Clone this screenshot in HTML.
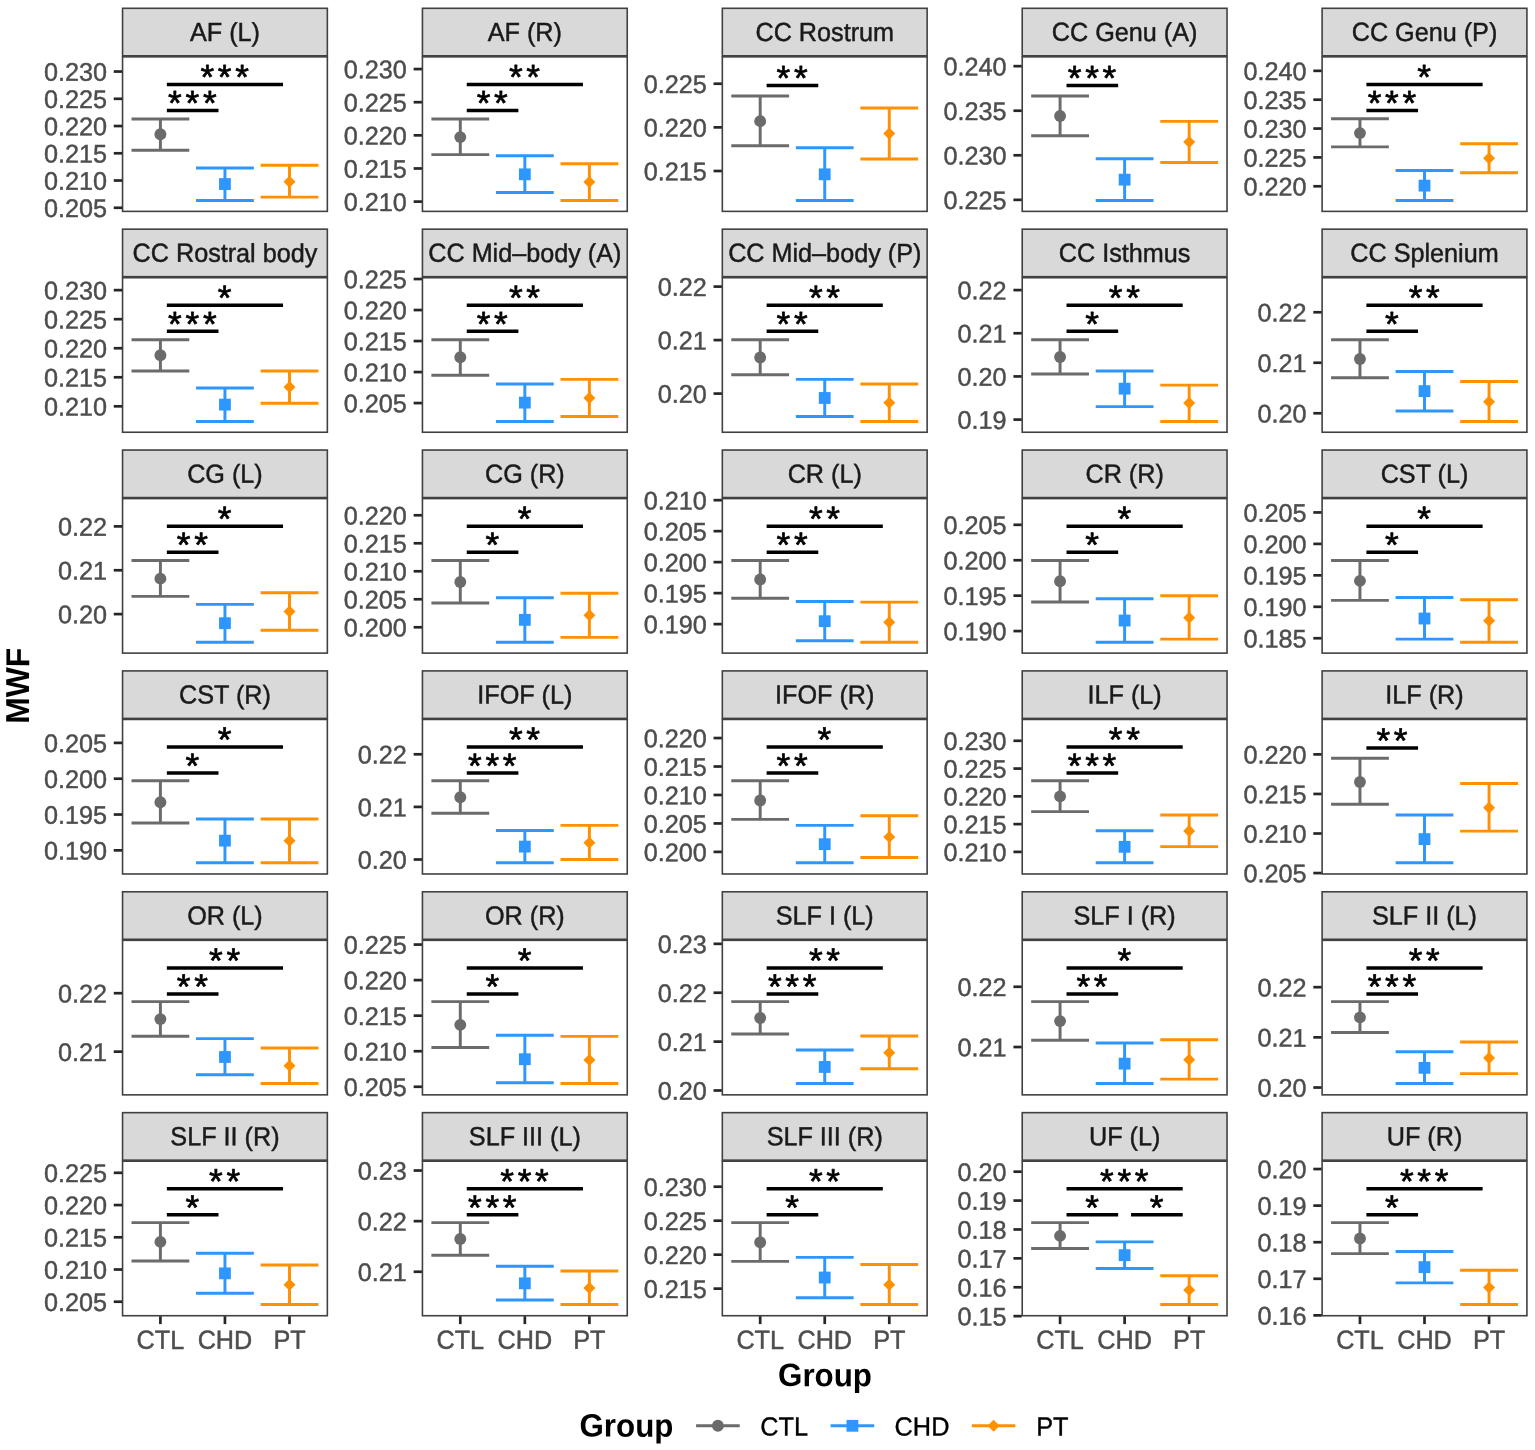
<!DOCTYPE html>
<html lang="en">
<head>
<meta charset="utf-8">
<title>MWF by Group</title>
<style>
html,body{margin:0;padding:0;background:#fff;}
body{width:1535px;height:1450px;overflow:hidden;}
svg{display:block;}
</style>
</head>
<body>
<svg width="1535" height="1450" viewBox="0 0 1535 1450" text-rendering="geometricPrecision" font-family="'Liberation Sans', Arial, Helvetica, sans-serif">
<rect width="1535" height="1450" fill="#ffffff"/>
<g>
<rect x="122.55" y="56.85" width="204.8" height="154.52" fill="#ffffff" stroke="#414141" stroke-width="1.6"/>
<rect x="122.55" y="8.3" width="204.8" height="47.5" fill="#d9d9d9" stroke="#414141" stroke-width="1.6"/>
<text transform="translate(224.95 41) rotate(0.1) scale(1 1.035)" x="0" y="0" font-size="25.2" fill="#1a1a1a" stroke="#1a1a1a" stroke-width="0.45" text-anchor="middle">AF (L)</text>
<line x1="113.75" y1="71.54" x2="122.05" y2="71.54" stroke="#262626" stroke-width="2.7"/>
<text transform="translate(106.95 80.86) rotate(0.1) scale(1 1.008)" x="0" y="0" font-size="25.2" fill="#4d4d4d" stroke="#4d4d4d" stroke-width="0.45" text-anchor="end">0.230</text>
<line x1="113.75" y1="98.79" x2="122.05" y2="98.79" stroke="#262626" stroke-width="2.7"/>
<text transform="translate(106.95 108.11) rotate(0.1) scale(1 1.008)" x="0" y="0" font-size="25.2" fill="#4d4d4d" stroke="#4d4d4d" stroke-width="0.45" text-anchor="end">0.225</text>
<line x1="113.75" y1="126.03" x2="122.05" y2="126.03" stroke="#262626" stroke-width="2.7"/>
<text transform="translate(106.95 135.35) rotate(0.1) scale(1 1.008)" x="0" y="0" font-size="25.2" fill="#4d4d4d" stroke="#4d4d4d" stroke-width="0.45" text-anchor="end">0.220</text>
<line x1="113.75" y1="153.28" x2="122.05" y2="153.28" stroke="#262626" stroke-width="2.7"/>
<text transform="translate(106.95 162.6) rotate(0.1) scale(1 1.008)" x="0" y="0" font-size="25.2" fill="#4d4d4d" stroke="#4d4d4d" stroke-width="0.45" text-anchor="end">0.215</text>
<line x1="113.75" y1="180.52" x2="122.05" y2="180.52" stroke="#262626" stroke-width="2.7"/>
<text transform="translate(106.95 189.84) rotate(0.1) scale(1 1.008)" x="0" y="0" font-size="25.2" fill="#4d4d4d" stroke="#4d4d4d" stroke-width="0.45" text-anchor="end">0.210</text>
<line x1="113.75" y1="207.77" x2="122.05" y2="207.77" stroke="#262626" stroke-width="2.7"/>
<text transform="translate(106.95 217.09) rotate(0.1) scale(1 1.008)" x="0" y="0" font-size="25.2" fill="#4d4d4d" stroke="#4d4d4d" stroke-width="0.45" text-anchor="end">0.205</text>
<path d="M131.5 118.94H189.3M131.5 150.18H189.3M160.4 118.94V150.18" fill="none" stroke="#6b6b6b" stroke-width="2.95"/>
<circle cx="160.4" cy="134.23" r="5.95" fill="#6b6b6b"/>
<path d="M196.05 167.9H253.85M196.05 200.46H253.85M224.95 167.9V200.46" fill="none" stroke="#2e96ff" stroke-width="2.95"/>
<rect x="219.05" y="178.17" width="11.8" height="11.8" fill="#2e96ff"/>
<path d="M260.6 165.24H318.4M260.6 197.13H318.4M289.5 165.24V197.13" fill="none" stroke="#ff9000" stroke-width="2.95"/>
<path d="M289.5 175.63L295.5 181.63L289.5 187.63L283.5 181.63Z" fill="#ff9000"/>
<line x1="166.85" y1="84.4" x2="283.04" y2="84.4" stroke="#000" stroke-width="3.5"/>
<text transform="translate(224.6 89) rotate(0.1) scale(1 1)" x="-17.4 0 17.4" y="0" font-size="35" font-weight="normal" fill="#000" stroke="#000" stroke-width="0.7" stroke-linejoin="round" text-anchor="middle">***</text>
<line x1="166.85" y1="110.5" x2="218.49" y2="110.5" stroke="#000" stroke-width="3.5"/>
<text transform="translate(192.32 115.1) rotate(0.1) scale(1 1)" x="-17.4 -0 17.4" y="0" font-size="35" font-weight="normal" fill="#000" stroke="#000" stroke-width="0.7" stroke-linejoin="round" text-anchor="middle">***</text>
</g>
<g>
<rect x="422.44" y="56.85" width="204.8" height="154.52" fill="#ffffff" stroke="#414141" stroke-width="1.6"/>
<rect x="422.44" y="8.3" width="204.8" height="47.5" fill="#d9d9d9" stroke="#414141" stroke-width="1.6"/>
<text transform="translate(524.84 41) rotate(0.1) scale(1 1.035)" x="0" y="0" font-size="25.2" fill="#1a1a1a" stroke="#1a1a1a" stroke-width="0.45" text-anchor="middle">AF (R)</text>
<line x1="413.64" y1="69.06" x2="421.94" y2="69.06" stroke="#262626" stroke-width="2.7"/>
<text transform="translate(406.84 78.38) rotate(0.1) scale(1 1.008)" x="0" y="0" font-size="25.2" fill="#4d4d4d" stroke="#4d4d4d" stroke-width="0.45" text-anchor="end">0.230</text>
<line x1="413.64" y1="102.2" x2="421.94" y2="102.2" stroke="#262626" stroke-width="2.7"/>
<text transform="translate(406.84 111.52) rotate(0.1) scale(1 1.008)" x="0" y="0" font-size="25.2" fill="#4d4d4d" stroke="#4d4d4d" stroke-width="0.45" text-anchor="end">0.225</text>
<line x1="413.64" y1="135.34" x2="421.94" y2="135.34" stroke="#262626" stroke-width="2.7"/>
<text transform="translate(406.84 144.66) rotate(0.1) scale(1 1.008)" x="0" y="0" font-size="25.2" fill="#4d4d4d" stroke="#4d4d4d" stroke-width="0.45" text-anchor="end">0.220</text>
<line x1="413.64" y1="168.47" x2="421.94" y2="168.47" stroke="#262626" stroke-width="2.7"/>
<text transform="translate(406.84 177.79) rotate(0.1) scale(1 1.008)" x="0" y="0" font-size="25.2" fill="#4d4d4d" stroke="#4d4d4d" stroke-width="0.45" text-anchor="end">0.215</text>
<line x1="413.64" y1="201.61" x2="421.94" y2="201.61" stroke="#262626" stroke-width="2.7"/>
<text transform="translate(406.84 210.93) rotate(0.1) scale(1 1.008)" x="0" y="0" font-size="25.2" fill="#4d4d4d" stroke="#4d4d4d" stroke-width="0.45" text-anchor="end">0.210</text>
<path d="M431.39 118.94H489.19M431.39 154.61H489.19M460.29 118.94V154.61" fill="none" stroke="#6b6b6b" stroke-width="2.95"/>
<circle cx="460.29" cy="137.11" r="5.95" fill="#6b6b6b"/>
<path d="M495.94 155.71H553.74M495.94 192.48H553.74M524.84 155.71V192.48" fill="none" stroke="#2e96ff" stroke-width="2.95"/>
<rect x="518.94" y="168.42" width="11.8" height="11.8" fill="#2e96ff"/>
<path d="M560.49 163.69H618.29M560.49 200.46H618.29M589.39 163.69V200.46" fill="none" stroke="#ff9000" stroke-width="2.95"/>
<path d="M589.39 176.07L595.39 182.07L589.39 188.07L583.39 182.07Z" fill="#ff9000"/>
<line x1="466.75" y1="84.4" x2="582.94" y2="84.4" stroke="#000" stroke-width="3.5"/>
<text transform="translate(524.49 89) rotate(0.1) scale(1 1)" x="-8.7 8.7" y="0" font-size="35" font-weight="normal" fill="#000" stroke="#000" stroke-width="0.7" stroke-linejoin="round" text-anchor="middle">**</text>
<line x1="466.75" y1="110.5" x2="518.38" y2="110.5" stroke="#000" stroke-width="3.5"/>
<text transform="translate(492.22 115.1) rotate(0.1) scale(1 1)" x="-8.7 8.7" y="0" font-size="35" font-weight="normal" fill="#000" stroke="#000" stroke-width="0.7" stroke-linejoin="round" text-anchor="middle">**</text>
</g>
<g>
<rect x="722.33" y="56.85" width="204.8" height="154.52" fill="#ffffff" stroke="#414141" stroke-width="1.6"/>
<rect x="722.33" y="8.3" width="204.8" height="47.5" fill="#d9d9d9" stroke="#414141" stroke-width="1.6"/>
<text transform="translate(824.73 41) rotate(0.1) scale(1 1.035)" x="0" y="0" font-size="25.2" fill="#1a1a1a" stroke="#1a1a1a" stroke-width="0.45" text-anchor="middle">CC Rostrum</text>
<line x1="713.53" y1="83.73" x2="721.83" y2="83.73" stroke="#262626" stroke-width="2.7"/>
<text transform="translate(706.73 93.05) rotate(0.1) scale(1 1.008)" x="0" y="0" font-size="25.2" fill="#4d4d4d" stroke="#4d4d4d" stroke-width="0.45" text-anchor="end">0.225</text>
<line x1="713.53" y1="127.36" x2="721.83" y2="127.36" stroke="#262626" stroke-width="2.7"/>
<text transform="translate(706.73 136.68) rotate(0.1) scale(1 1.008)" x="0" y="0" font-size="25.2" fill="#4d4d4d" stroke="#4d4d4d" stroke-width="0.45" text-anchor="end">0.220</text>
<line x1="713.53" y1="171" x2="721.83" y2="171" stroke="#262626" stroke-width="2.7"/>
<text transform="translate(706.73 180.32) rotate(0.1) scale(1 1.008)" x="0" y="0" font-size="25.2" fill="#4d4d4d" stroke="#4d4d4d" stroke-width="0.45" text-anchor="end">0.215</text>
<path d="M731.28 95.91H789.08M731.28 145.75H789.08M760.18 95.91V145.75" fill="none" stroke="#6b6b6b" stroke-width="2.95"/>
<circle cx="760.18" cy="121.16" r="5.95" fill="#6b6b6b"/>
<path d="M795.83 147.74H853.63M795.83 200.46H853.63M824.73 147.74V200.46" fill="none" stroke="#2e96ff" stroke-width="2.95"/>
<rect x="818.83" y="168.42" width="11.8" height="11.8" fill="#2e96ff"/>
<path d="M860.38 108.09H918.18M860.38 159.04H918.18M889.28 108.09V159.04" fill="none" stroke="#ff9000" stroke-width="2.95"/>
<path d="M889.28 127.56L895.28 133.56L889.28 139.56L883.28 133.56Z" fill="#ff9000"/>
<line x1="766.63" y1="85.4" x2="818.27" y2="85.4" stroke="#000" stroke-width="3.5"/>
<text transform="translate(792.1 90) rotate(0.1) scale(1 1)" x="-8.7 8.7" y="0" font-size="35" font-weight="normal" fill="#000" stroke="#000" stroke-width="0.7" stroke-linejoin="round" text-anchor="middle">**</text>
</g>
<g>
<rect x="1022.22" y="56.85" width="204.8" height="154.52" fill="#ffffff" stroke="#414141" stroke-width="1.6"/>
<rect x="1022.22" y="8.3" width="204.8" height="47.5" fill="#d9d9d9" stroke="#414141" stroke-width="1.6"/>
<text transform="translate(1124.62 41) rotate(0.1) scale(1 1.035)" x="0" y="0" font-size="25.2" fill="#1a1a1a" stroke="#1a1a1a" stroke-width="0.45" text-anchor="middle">CC Genu (A)</text>
<line x1="1013.42" y1="66.16" x2="1021.72" y2="66.16" stroke="#262626" stroke-width="2.7"/>
<text transform="translate(1006.62 75.48) rotate(0.1) scale(1 1.008)" x="0" y="0" font-size="25.2" fill="#4d4d4d" stroke="#4d4d4d" stroke-width="0.45" text-anchor="end">0.240</text>
<line x1="1013.42" y1="110.73" x2="1021.72" y2="110.73" stroke="#262626" stroke-width="2.7"/>
<text transform="translate(1006.62 120.05) rotate(0.1) scale(1 1.008)" x="0" y="0" font-size="25.2" fill="#4d4d4d" stroke="#4d4d4d" stroke-width="0.45" text-anchor="end">0.235</text>
<line x1="1013.42" y1="155.29" x2="1021.72" y2="155.29" stroke="#262626" stroke-width="2.7"/>
<text transform="translate(1006.62 164.61) rotate(0.1) scale(1 1.008)" x="0" y="0" font-size="25.2" fill="#4d4d4d" stroke="#4d4d4d" stroke-width="0.45" text-anchor="end">0.230</text>
<line x1="1013.42" y1="199.86" x2="1021.72" y2="199.86" stroke="#262626" stroke-width="2.7"/>
<text transform="translate(1006.62 209.18) rotate(0.1) scale(1 1.008)" x="0" y="0" font-size="25.2" fill="#4d4d4d" stroke="#4d4d4d" stroke-width="0.45" text-anchor="end">0.225</text>
<path d="M1031.17 95.91H1088.97M1031.17 135.78H1088.97M1060.07 95.91V135.78" fill="none" stroke="#6b6b6b" stroke-width="2.95"/>
<circle cx="1060.07" cy="116.07" r="5.95" fill="#6b6b6b"/>
<path d="M1095.72 158.81H1153.52M1095.72 200.46H1153.52M1124.62 158.81V200.46" fill="none" stroke="#2e96ff" stroke-width="2.95"/>
<rect x="1118.72" y="173.74" width="11.8" height="11.8" fill="#2e96ff"/>
<path d="M1160.27 121.38H1218.07M1160.27 162.58H1218.07M1189.17 121.38V162.58" fill="none" stroke="#ff9000" stroke-width="2.95"/>
<path d="M1189.17 135.98L1195.17 141.98L1189.17 147.98L1183.17 141.98Z" fill="#ff9000"/>
<line x1="1066.52" y1="85.4" x2="1118.16" y2="85.4" stroke="#000" stroke-width="3.5"/>
<text transform="translate(1091.99 90) rotate(0.1) scale(1 1)" x="-17.4 0 17.4" y="0" font-size="35" font-weight="normal" fill="#000" stroke="#000" stroke-width="0.7" stroke-linejoin="round" text-anchor="middle">***</text>
</g>
<g>
<rect x="1322.11" y="56.85" width="204.8" height="154.52" fill="#ffffff" stroke="#414141" stroke-width="1.6"/>
<rect x="1322.11" y="8.3" width="204.8" height="47.5" fill="#d9d9d9" stroke="#414141" stroke-width="1.6"/>
<text transform="translate(1424.51 41) rotate(0.1) scale(1 1.035)" x="0" y="0" font-size="25.2" fill="#1a1a1a" stroke="#1a1a1a" stroke-width="0.45" text-anchor="middle">CC Genu (P)</text>
<line x1="1313.31" y1="70.84" x2="1321.61" y2="70.84" stroke="#262626" stroke-width="2.7"/>
<text transform="translate(1306.51 80.16) rotate(0.1) scale(1 1.008)" x="0" y="0" font-size="25.2" fill="#4d4d4d" stroke="#4d4d4d" stroke-width="0.45" text-anchor="end">0.240</text>
<line x1="1313.31" y1="99.7" x2="1321.61" y2="99.7" stroke="#262626" stroke-width="2.7"/>
<text transform="translate(1306.51 109.02) rotate(0.1) scale(1 1.008)" x="0" y="0" font-size="25.2" fill="#4d4d4d" stroke="#4d4d4d" stroke-width="0.45" text-anchor="end">0.235</text>
<line x1="1313.31" y1="128.56" x2="1321.61" y2="128.56" stroke="#262626" stroke-width="2.7"/>
<text transform="translate(1306.51 137.88) rotate(0.1) scale(1 1.008)" x="0" y="0" font-size="25.2" fill="#4d4d4d" stroke="#4d4d4d" stroke-width="0.45" text-anchor="end">0.230</text>
<line x1="1313.31" y1="157.42" x2="1321.61" y2="157.42" stroke="#262626" stroke-width="2.7"/>
<text transform="translate(1306.51 166.74) rotate(0.1) scale(1 1.008)" x="0" y="0" font-size="25.2" fill="#4d4d4d" stroke="#4d4d4d" stroke-width="0.45" text-anchor="end">0.225</text>
<line x1="1313.31" y1="186.28" x2="1321.61" y2="186.28" stroke="#262626" stroke-width="2.7"/>
<text transform="translate(1306.51 195.6) rotate(0.1) scale(1 1.008)" x="0" y="0" font-size="25.2" fill="#4d4d4d" stroke="#4d4d4d" stroke-width="0.45" text-anchor="end">0.220</text>
<path d="M1331.06 118.72H1388.86M1331.06 146.85H1388.86M1359.96 118.72V146.85" fill="none" stroke="#6b6b6b" stroke-width="2.95"/>
<circle cx="1359.96" cy="133.12" r="5.95" fill="#6b6b6b"/>
<path d="M1395.61 170.55H1453.41M1395.61 200.46H1453.41M1424.51 170.55V200.46" fill="none" stroke="#2e96ff" stroke-width="2.95"/>
<rect x="1418.61" y="179.72" width="11.8" height="11.8" fill="#2e96ff"/>
<path d="M1460.16 143.75H1517.96M1460.16 172.77H1517.96M1489.06 143.75V172.77" fill="none" stroke="#ff9000" stroke-width="2.95"/>
<path d="M1489.06 152.15L1495.06 158.15L1489.06 164.15L1483.06 158.15Z" fill="#ff9000"/>
<line x1="1366.41" y1="84.4" x2="1482.61" y2="84.4" stroke="#000" stroke-width="3.5"/>
<text transform="translate(1424.16 89) rotate(0.1) scale(1 1)" x="0" y="0" font-size="35" font-weight="normal" fill="#000" stroke="#000" stroke-width="0.7" stroke-linejoin="round" text-anchor="middle">*</text>
<line x1="1366.41" y1="110.5" x2="1418.06" y2="110.5" stroke="#000" stroke-width="3.5"/>
<text transform="translate(1391.89 115.1) rotate(0.1) scale(1 1)" x="-17.4 0 17.4" y="0" font-size="35" font-weight="normal" fill="#000" stroke="#000" stroke-width="0.7" stroke-linejoin="round" text-anchor="middle">***</text>
</g>
<g>
<rect x="122.55" y="277.72" width="204.8" height="154.52" fill="#ffffff" stroke="#414141" stroke-width="1.6"/>
<rect x="122.55" y="229.17" width="204.8" height="47.5" fill="#d9d9d9" stroke="#414141" stroke-width="1.6"/>
<text transform="translate(224.95 261.87) rotate(0.1) scale(1 1.035)" x="0" y="0" font-size="25.2" fill="#1a1a1a" stroke="#1a1a1a" stroke-width="0.45" text-anchor="middle">CC Rostral body</text>
<line x1="113.75" y1="290.15" x2="122.05" y2="290.15" stroke="#262626" stroke-width="2.7"/>
<text transform="translate(106.95 299.47) rotate(0.1) scale(1 1.008)" x="0" y="0" font-size="25.2" fill="#4d4d4d" stroke="#4d4d4d" stroke-width="0.45" text-anchor="end">0.230</text>
<line x1="113.75" y1="319.19" x2="122.05" y2="319.19" stroke="#262626" stroke-width="2.7"/>
<text transform="translate(106.95 328.51) rotate(0.1) scale(1 1.008)" x="0" y="0" font-size="25.2" fill="#4d4d4d" stroke="#4d4d4d" stroke-width="0.45" text-anchor="end">0.225</text>
<line x1="113.75" y1="348.23" x2="122.05" y2="348.23" stroke="#262626" stroke-width="2.7"/>
<text transform="translate(106.95 357.55) rotate(0.1) scale(1 1.008)" x="0" y="0" font-size="25.2" fill="#4d4d4d" stroke="#4d4d4d" stroke-width="0.45" text-anchor="end">0.220</text>
<line x1="113.75" y1="377.27" x2="122.05" y2="377.27" stroke="#262626" stroke-width="2.7"/>
<text transform="translate(106.95 386.59) rotate(0.1) scale(1 1.008)" x="0" y="0" font-size="25.2" fill="#4d4d4d" stroke="#4d4d4d" stroke-width="0.45" text-anchor="end">0.215</text>
<line x1="113.75" y1="406.31" x2="122.05" y2="406.31" stroke="#262626" stroke-width="2.7"/>
<text transform="translate(106.95 415.63) rotate(0.1) scale(1 1.008)" x="0" y="0" font-size="25.2" fill="#4d4d4d" stroke="#4d4d4d" stroke-width="0.45" text-anchor="end">0.210</text>
<path d="M131.5 339.72H189.3M131.5 370.95H189.3M160.4 339.72V370.95" fill="none" stroke="#6b6b6b" stroke-width="2.95"/>
<circle cx="160.4" cy="355.23" r="5.95" fill="#6b6b6b"/>
<path d="M196.05 388.01H253.85M196.05 421.46H253.85M224.95 388.01V421.46" fill="none" stroke="#2e96ff" stroke-width="2.95"/>
<rect x="219.05" y="398.72" width="11.8" height="11.8" fill="#2e96ff"/>
<path d="M260.6 370.95H318.4M260.6 403.29H318.4M289.5 370.95V403.29" fill="none" stroke="#ff9000" stroke-width="2.95"/>
<path d="M289.5 380.9L295.5 386.9L289.5 392.9L283.5 386.9Z" fill="#ff9000"/>
<line x1="166.85" y1="305.27" x2="283.04" y2="305.27" stroke="#000" stroke-width="3.5"/>
<text transform="translate(224.6 309.87) rotate(0.1) scale(1 1)" x="0" y="0" font-size="35" font-weight="normal" fill="#000" stroke="#000" stroke-width="0.7" stroke-linejoin="round" text-anchor="middle">*</text>
<line x1="166.85" y1="331.37" x2="218.49" y2="331.37" stroke="#000" stroke-width="3.5"/>
<text transform="translate(192.32 335.97) rotate(0.1) scale(1 1)" x="-17.4 -0 17.4" y="0" font-size="35" font-weight="normal" fill="#000" stroke="#000" stroke-width="0.7" stroke-linejoin="round" text-anchor="middle">***</text>
</g>
<g>
<rect x="422.44" y="277.72" width="204.8" height="154.52" fill="#ffffff" stroke="#414141" stroke-width="1.6"/>
<rect x="422.44" y="229.17" width="204.8" height="47.5" fill="#d9d9d9" stroke="#414141" stroke-width="1.6"/>
<text transform="translate(524.84 261.87) rotate(0.1) scale(1 1.035)" x="0" y="0" font-size="25.2" fill="#1a1a1a" stroke="#1a1a1a" stroke-width="0.45" text-anchor="middle">CC Mid–body (A)</text>
<line x1="413.64" y1="279.03" x2="421.94" y2="279.03" stroke="#262626" stroke-width="2.7"/>
<text transform="translate(406.84 288.35) rotate(0.1) scale(1 1.008)" x="0" y="0" font-size="25.2" fill="#4d4d4d" stroke="#4d4d4d" stroke-width="0.45" text-anchor="end">0.225</text>
<line x1="413.64" y1="310.04" x2="421.94" y2="310.04" stroke="#262626" stroke-width="2.7"/>
<text transform="translate(406.84 319.36) rotate(0.1) scale(1 1.008)" x="0" y="0" font-size="25.2" fill="#4d4d4d" stroke="#4d4d4d" stroke-width="0.45" text-anchor="end">0.220</text>
<line x1="413.64" y1="341.05" x2="421.94" y2="341.05" stroke="#262626" stroke-width="2.7"/>
<text transform="translate(406.84 350.37) rotate(0.1) scale(1 1.008)" x="0" y="0" font-size="25.2" fill="#4d4d4d" stroke="#4d4d4d" stroke-width="0.45" text-anchor="end">0.215</text>
<line x1="413.64" y1="372.06" x2="421.94" y2="372.06" stroke="#262626" stroke-width="2.7"/>
<text transform="translate(406.84 381.38) rotate(0.1) scale(1 1.008)" x="0" y="0" font-size="25.2" fill="#4d4d4d" stroke="#4d4d4d" stroke-width="0.45" text-anchor="end">0.210</text>
<line x1="413.64" y1="403.07" x2="421.94" y2="403.07" stroke="#262626" stroke-width="2.7"/>
<text transform="translate(406.84 412.39) rotate(0.1) scale(1 1.008)" x="0" y="0" font-size="25.2" fill="#4d4d4d" stroke="#4d4d4d" stroke-width="0.45" text-anchor="end">0.205</text>
<path d="M431.39 339.72H489.19M431.39 375.16H489.19M460.29 339.72V375.16" fill="none" stroke="#6b6b6b" stroke-width="2.95"/>
<circle cx="460.29" cy="357.22" r="5.95" fill="#6b6b6b"/>
<path d="M495.94 384.02H553.74M495.94 421.46H553.74M524.84 384.02V421.46" fill="none" stroke="#2e96ff" stroke-width="2.95"/>
<rect x="518.94" y="396.73" width="11.8" height="11.8" fill="#2e96ff"/>
<path d="M560.49 379.37H618.29M560.49 416.58H618.29M589.39 379.37V416.58" fill="none" stroke="#ff9000" stroke-width="2.95"/>
<path d="M589.39 391.98L595.39 397.98L589.39 403.98L583.39 397.98Z" fill="#ff9000"/>
<line x1="466.75" y1="305.27" x2="582.94" y2="305.27" stroke="#000" stroke-width="3.5"/>
<text transform="translate(524.49 309.87) rotate(0.1) scale(1 1)" x="-8.7 8.7" y="0" font-size="35" font-weight="normal" fill="#000" stroke="#000" stroke-width="0.7" stroke-linejoin="round" text-anchor="middle">**</text>
<line x1="466.75" y1="331.37" x2="518.38" y2="331.37" stroke="#000" stroke-width="3.5"/>
<text transform="translate(492.22 335.97) rotate(0.1) scale(1 1)" x="-8.7 8.7" y="0" font-size="35" font-weight="normal" fill="#000" stroke="#000" stroke-width="0.7" stroke-linejoin="round" text-anchor="middle">**</text>
</g>
<g>
<rect x="722.33" y="277.72" width="204.8" height="154.52" fill="#ffffff" stroke="#414141" stroke-width="1.6"/>
<rect x="722.33" y="229.17" width="204.8" height="47.5" fill="#d9d9d9" stroke="#414141" stroke-width="1.6"/>
<text transform="translate(824.73 261.87) rotate(0.1) scale(1 1.035)" x="0" y="0" font-size="25.2" fill="#1a1a1a" stroke="#1a1a1a" stroke-width="0.45" text-anchor="middle">CC Mid–body (P)</text>
<line x1="713.53" y1="286.6" x2="721.83" y2="286.6" stroke="#262626" stroke-width="2.7"/>
<text transform="translate(706.73 295.92) rotate(0.1) scale(1 1.008)" x="0" y="0" font-size="25.2" fill="#4d4d4d" stroke="#4d4d4d" stroke-width="0.45" text-anchor="end">0.22</text>
<line x1="713.53" y1="340.09" x2="721.83" y2="340.09" stroke="#262626" stroke-width="2.7"/>
<text transform="translate(706.73 349.41) rotate(0.1) scale(1 1.008)" x="0" y="0" font-size="25.2" fill="#4d4d4d" stroke="#4d4d4d" stroke-width="0.45" text-anchor="end">0.21</text>
<line x1="713.53" y1="393.58" x2="721.83" y2="393.58" stroke="#262626" stroke-width="2.7"/>
<text transform="translate(706.73 402.9) rotate(0.1) scale(1 1.008)" x="0" y="0" font-size="25.2" fill="#4d4d4d" stroke="#4d4d4d" stroke-width="0.45" text-anchor="end">0.20</text>
<path d="M731.28 339.72H789.08M731.28 374.72H789.08M760.18 339.72V374.72" fill="none" stroke="#6b6b6b" stroke-width="2.95"/>
<circle cx="760.18" cy="357.44" r="5.95" fill="#6b6b6b"/>
<path d="M795.83 379.37H853.63M795.83 416.58H853.63M824.73 379.37V416.58" fill="none" stroke="#2e96ff" stroke-width="2.95"/>
<rect x="818.83" y="392.08" width="11.8" height="11.8" fill="#2e96ff"/>
<path d="M860.38 384.02H918.18M860.38 421.46H918.18M889.28 384.02V421.46" fill="none" stroke="#ff9000" stroke-width="2.95"/>
<path d="M889.28 396.63L895.28 402.63L889.28 408.63L883.28 402.63Z" fill="#ff9000"/>
<line x1="766.63" y1="305.27" x2="882.82" y2="305.27" stroke="#000" stroke-width="3.5"/>
<text transform="translate(824.38 309.87) rotate(0.1) scale(1 1)" x="-8.7 8.7" y="0" font-size="35" font-weight="normal" fill="#000" stroke="#000" stroke-width="0.7" stroke-linejoin="round" text-anchor="middle">**</text>
<line x1="766.63" y1="331.37" x2="818.27" y2="331.37" stroke="#000" stroke-width="3.5"/>
<text transform="translate(792.1 335.97) rotate(0.1) scale(1 1)" x="-8.7 8.7" y="0" font-size="35" font-weight="normal" fill="#000" stroke="#000" stroke-width="0.7" stroke-linejoin="round" text-anchor="middle">**</text>
</g>
<g>
<rect x="1022.22" y="277.72" width="204.8" height="154.52" fill="#ffffff" stroke="#414141" stroke-width="1.6"/>
<rect x="1022.22" y="229.17" width="204.8" height="47.5" fill="#d9d9d9" stroke="#414141" stroke-width="1.6"/>
<text transform="translate(1124.62 261.87) rotate(0.1) scale(1 1.035)" x="0" y="0" font-size="25.2" fill="#1a1a1a" stroke="#1a1a1a" stroke-width="0.45" text-anchor="middle">CC Isthmus</text>
<line x1="1013.42" y1="290.09" x2="1021.72" y2="290.09" stroke="#262626" stroke-width="2.7"/>
<text transform="translate(1006.62 299.41) rotate(0.1) scale(1 1.008)" x="0" y="0" font-size="25.2" fill="#4d4d4d" stroke="#4d4d4d" stroke-width="0.45" text-anchor="end">0.22</text>
<line x1="1013.42" y1="333.26" x2="1021.72" y2="333.26" stroke="#262626" stroke-width="2.7"/>
<text transform="translate(1006.62 342.58) rotate(0.1) scale(1 1.008)" x="0" y="0" font-size="25.2" fill="#4d4d4d" stroke="#4d4d4d" stroke-width="0.45" text-anchor="end">0.21</text>
<line x1="1013.42" y1="376.43" x2="1021.72" y2="376.43" stroke="#262626" stroke-width="2.7"/>
<text transform="translate(1006.62 385.75) rotate(0.1) scale(1 1.008)" x="0" y="0" font-size="25.2" fill="#4d4d4d" stroke="#4d4d4d" stroke-width="0.45" text-anchor="end">0.20</text>
<line x1="1013.42" y1="419.6" x2="1021.72" y2="419.6" stroke="#262626" stroke-width="2.7"/>
<text transform="translate(1006.62 428.92) rotate(0.1) scale(1 1.008)" x="0" y="0" font-size="25.2" fill="#4d4d4d" stroke="#4d4d4d" stroke-width="0.45" text-anchor="end">0.19</text>
<path d="M1031.17 339.72H1088.97M1031.17 374.06H1088.97M1060.07 339.72V374.06" fill="none" stroke="#6b6b6b" stroke-width="2.95"/>
<circle cx="1060.07" cy="357" r="5.95" fill="#6b6b6b"/>
<path d="M1095.72 370.95H1153.52M1095.72 406.62H1153.52M1124.62 370.95V406.62" fill="none" stroke="#2e96ff" stroke-width="2.95"/>
<rect x="1118.72" y="382.77" width="11.8" height="11.8" fill="#2e96ff"/>
<path d="M1160.27 385.13H1218.07M1160.27 421.46H1218.07M1189.17 385.13V421.46" fill="none" stroke="#ff9000" stroke-width="2.95"/>
<path d="M1189.17 397.07L1195.17 403.07L1189.17 409.07L1183.17 403.07Z" fill="#ff9000"/>
<line x1="1066.52" y1="305.27" x2="1182.71" y2="305.27" stroke="#000" stroke-width="3.5"/>
<text transform="translate(1124.27 309.87) rotate(0.1) scale(1 1)" x="-8.7 8.7" y="0" font-size="35" font-weight="normal" fill="#000" stroke="#000" stroke-width="0.7" stroke-linejoin="round" text-anchor="middle">**</text>
<line x1="1066.52" y1="331.37" x2="1118.16" y2="331.37" stroke="#000" stroke-width="3.5"/>
<text transform="translate(1091.99 335.97) rotate(0.1) scale(1 1)" x="0" y="0" font-size="35" font-weight="normal" fill="#000" stroke="#000" stroke-width="0.7" stroke-linejoin="round" text-anchor="middle">*</text>
</g>
<g>
<rect x="1322.11" y="277.72" width="204.8" height="154.52" fill="#ffffff" stroke="#414141" stroke-width="1.6"/>
<rect x="1322.11" y="229.17" width="204.8" height="47.5" fill="#d9d9d9" stroke="#414141" stroke-width="1.6"/>
<text transform="translate(1424.51 261.87) rotate(0.1) scale(1 1.035)" x="0" y="0" font-size="25.2" fill="#1a1a1a" stroke="#1a1a1a" stroke-width="0.45" text-anchor="middle">CC Splenium</text>
<line x1="1313.31" y1="312.26" x2="1321.61" y2="312.26" stroke="#262626" stroke-width="2.7"/>
<text transform="translate(1306.51 321.58) rotate(0.1) scale(1 1.008)" x="0" y="0" font-size="25.2" fill="#4d4d4d" stroke="#4d4d4d" stroke-width="0.45" text-anchor="end">0.22</text>
<line x1="1313.31" y1="362.76" x2="1321.61" y2="362.76" stroke="#262626" stroke-width="2.7"/>
<text transform="translate(1306.51 372.08) rotate(0.1) scale(1 1.008)" x="0" y="0" font-size="25.2" fill="#4d4d4d" stroke="#4d4d4d" stroke-width="0.45" text-anchor="end">0.21</text>
<line x1="1313.31" y1="413.26" x2="1321.61" y2="413.26" stroke="#262626" stroke-width="2.7"/>
<text transform="translate(1306.51 422.58) rotate(0.1) scale(1 1.008)" x="0" y="0" font-size="25.2" fill="#4d4d4d" stroke="#4d4d4d" stroke-width="0.45" text-anchor="end">0.20</text>
<path d="M1331.06 339.72H1388.86M1331.06 377.82H1388.86M1359.96 339.72V377.82" fill="none" stroke="#6b6b6b" stroke-width="2.95"/>
<circle cx="1359.96" cy="358.99" r="5.95" fill="#6b6b6b"/>
<path d="M1395.61 371.4H1453.41M1395.61 411.05H1453.41M1424.51 371.4V411.05" fill="none" stroke="#2e96ff" stroke-width="2.95"/>
<rect x="1418.61" y="385.21" width="11.8" height="11.8" fill="#2e96ff"/>
<path d="M1460.16 381.59H1517.96M1460.16 421.46H1517.96M1489.06 381.59V421.46" fill="none" stroke="#ff9000" stroke-width="2.95"/>
<path d="M1489.06 395.74L1495.06 401.74L1489.06 407.74L1483.06 401.74Z" fill="#ff9000"/>
<line x1="1366.41" y1="305.27" x2="1482.61" y2="305.27" stroke="#000" stroke-width="3.5"/>
<text transform="translate(1424.16 309.87) rotate(0.1) scale(1 1)" x="-8.7 8.7" y="0" font-size="35" font-weight="normal" fill="#000" stroke="#000" stroke-width="0.7" stroke-linejoin="round" text-anchor="middle">**</text>
<line x1="1366.41" y1="331.37" x2="1418.06" y2="331.37" stroke="#000" stroke-width="3.5"/>
<text transform="translate(1391.89 335.97) rotate(0.1) scale(1 1)" x="0" y="0" font-size="35" font-weight="normal" fill="#000" stroke="#000" stroke-width="0.7" stroke-linejoin="round" text-anchor="middle">*</text>
</g>
<g>
<rect x="122.55" y="498.59" width="204.8" height="154.52" fill="#ffffff" stroke="#414141" stroke-width="1.6"/>
<rect x="122.55" y="450.04" width="204.8" height="47.5" fill="#d9d9d9" stroke="#414141" stroke-width="1.6"/>
<text transform="translate(224.95 482.74) rotate(0.1) scale(1 1.035)" x="0" y="0" font-size="25.2" fill="#1a1a1a" stroke="#1a1a1a" stroke-width="0.45" text-anchor="middle">CG (L)</text>
<line x1="113.75" y1="526.39" x2="122.05" y2="526.39" stroke="#262626" stroke-width="2.7"/>
<text transform="translate(106.95 535.71) rotate(0.1) scale(1 1.008)" x="0" y="0" font-size="25.2" fill="#4d4d4d" stroke="#4d4d4d" stroke-width="0.45" text-anchor="end">0.22</text>
<line x1="113.75" y1="570.25" x2="122.05" y2="570.25" stroke="#262626" stroke-width="2.7"/>
<text transform="translate(106.95 579.57) rotate(0.1) scale(1 1.008)" x="0" y="0" font-size="25.2" fill="#4d4d4d" stroke="#4d4d4d" stroke-width="0.45" text-anchor="end">0.21</text>
<line x1="113.75" y1="614.1" x2="122.05" y2="614.1" stroke="#262626" stroke-width="2.7"/>
<text transform="translate(106.95 623.42) rotate(0.1) scale(1 1.008)" x="0" y="0" font-size="25.2" fill="#4d4d4d" stroke="#4d4d4d" stroke-width="0.45" text-anchor="end">0.20</text>
<path d="M131.5 560.5H189.3M131.5 596.38H189.3M160.4 560.5V596.38" fill="none" stroke="#6b6b6b" stroke-width="2.95"/>
<circle cx="160.4" cy="578.66" r="5.95" fill="#6b6b6b"/>
<path d="M196.05 604.36H253.85M196.05 642.23H253.85M224.95 604.36V642.23" fill="none" stroke="#2e96ff" stroke-width="2.95"/>
<rect x="219.05" y="617.29" width="11.8" height="11.8" fill="#2e96ff"/>
<path d="M260.6 592.84H318.4M260.6 630.27H318.4M289.5 592.84V630.27" fill="none" stroke="#ff9000" stroke-width="2.95"/>
<path d="M289.5 605.45L295.5 611.45L289.5 617.45L283.5 611.45Z" fill="#ff9000"/>
<line x1="166.85" y1="526.14" x2="283.04" y2="526.14" stroke="#000" stroke-width="3.5"/>
<text transform="translate(224.6 530.74) rotate(0.1) scale(1 1)" x="0" y="0" font-size="35" font-weight="normal" fill="#000" stroke="#000" stroke-width="0.7" stroke-linejoin="round" text-anchor="middle">*</text>
<line x1="166.85" y1="552.24" x2="218.49" y2="552.24" stroke="#000" stroke-width="3.5"/>
<text transform="translate(192.32 556.84) rotate(0.1) scale(1 1)" x="-8.7 8.7" y="0" font-size="35" font-weight="normal" fill="#000" stroke="#000" stroke-width="0.7" stroke-linejoin="round" text-anchor="middle">**</text>
</g>
<g>
<rect x="422.44" y="498.59" width="204.8" height="154.52" fill="#ffffff" stroke="#414141" stroke-width="1.6"/>
<rect x="422.44" y="450.04" width="204.8" height="47.5" fill="#d9d9d9" stroke="#414141" stroke-width="1.6"/>
<text transform="translate(524.84 482.74) rotate(0.1) scale(1 1.035)" x="0" y="0" font-size="25.2" fill="#1a1a1a" stroke="#1a1a1a" stroke-width="0.45" text-anchor="middle">CG (R)</text>
<line x1="413.64" y1="515.27" x2="421.94" y2="515.27" stroke="#262626" stroke-width="2.7"/>
<text transform="translate(406.84 524.59) rotate(0.1) scale(1 1.008)" x="0" y="0" font-size="25.2" fill="#4d4d4d" stroke="#4d4d4d" stroke-width="0.45" text-anchor="end">0.220</text>
<line x1="413.64" y1="543.27" x2="421.94" y2="543.27" stroke="#262626" stroke-width="2.7"/>
<text transform="translate(406.84 552.59) rotate(0.1) scale(1 1.008)" x="0" y="0" font-size="25.2" fill="#4d4d4d" stroke="#4d4d4d" stroke-width="0.45" text-anchor="end">0.215</text>
<line x1="413.64" y1="571.27" x2="421.94" y2="571.27" stroke="#262626" stroke-width="2.7"/>
<text transform="translate(406.84 580.59) rotate(0.1) scale(1 1.008)" x="0" y="0" font-size="25.2" fill="#4d4d4d" stroke="#4d4d4d" stroke-width="0.45" text-anchor="end">0.210</text>
<line x1="413.64" y1="599.26" x2="421.94" y2="599.26" stroke="#262626" stroke-width="2.7"/>
<text transform="translate(406.84 608.58) rotate(0.1) scale(1 1.008)" x="0" y="0" font-size="25.2" fill="#4d4d4d" stroke="#4d4d4d" stroke-width="0.45" text-anchor="end">0.205</text>
<line x1="413.64" y1="627.26" x2="421.94" y2="627.26" stroke="#262626" stroke-width="2.7"/>
<text transform="translate(406.84 636.58) rotate(0.1) scale(1 1.008)" x="0" y="0" font-size="25.2" fill="#4d4d4d" stroke="#4d4d4d" stroke-width="0.45" text-anchor="end">0.200</text>
<path d="M431.39 560.5H489.19M431.39 603.03H489.19M460.29 560.5V603.03" fill="none" stroke="#6b6b6b" stroke-width="2.95"/>
<circle cx="460.29" cy="581.99" r="5.95" fill="#6b6b6b"/>
<path d="M495.94 597.71H553.74M495.94 642.23H553.74M524.84 597.71V642.23" fill="none" stroke="#2e96ff" stroke-width="2.95"/>
<rect x="518.94" y="613.96" width="11.8" height="11.8" fill="#2e96ff"/>
<path d="M560.49 593.28H618.29M560.49 637.36H618.29M589.39 593.28V637.36" fill="none" stroke="#ff9000" stroke-width="2.95"/>
<path d="M589.39 609.21L595.39 615.21L589.39 621.21L583.39 615.21Z" fill="#ff9000"/>
<line x1="466.75" y1="526.14" x2="582.94" y2="526.14" stroke="#000" stroke-width="3.5"/>
<text transform="translate(524.49 530.74) rotate(0.1) scale(1 1)" x="0" y="0" font-size="35" font-weight="normal" fill="#000" stroke="#000" stroke-width="0.7" stroke-linejoin="round" text-anchor="middle">*</text>
<line x1="466.75" y1="552.24" x2="518.38" y2="552.24" stroke="#000" stroke-width="3.5"/>
<text transform="translate(492.22 556.84) rotate(0.1) scale(1 1)" x="0" y="0" font-size="35" font-weight="normal" fill="#000" stroke="#000" stroke-width="0.7" stroke-linejoin="round" text-anchor="middle">*</text>
</g>
<g>
<rect x="722.33" y="498.59" width="204.8" height="154.52" fill="#ffffff" stroke="#414141" stroke-width="1.6"/>
<rect x="722.33" y="450.04" width="204.8" height="47.5" fill="#d9d9d9" stroke="#414141" stroke-width="1.6"/>
<text transform="translate(824.73 482.74) rotate(0.1) scale(1 1.035)" x="0" y="0" font-size="25.2" fill="#1a1a1a" stroke="#1a1a1a" stroke-width="0.45" text-anchor="middle">CR (L)</text>
<line x1="713.53" y1="500.17" x2="721.83" y2="500.17" stroke="#262626" stroke-width="2.7"/>
<text transform="translate(706.73 509.49) rotate(0.1) scale(1 1.008)" x="0" y="0" font-size="25.2" fill="#4d4d4d" stroke="#4d4d4d" stroke-width="0.45" text-anchor="end">0.210</text>
<line x1="713.53" y1="531.15" x2="721.83" y2="531.15" stroke="#262626" stroke-width="2.7"/>
<text transform="translate(706.73 540.47) rotate(0.1) scale(1 1.008)" x="0" y="0" font-size="25.2" fill="#4d4d4d" stroke="#4d4d4d" stroke-width="0.45" text-anchor="end">0.205</text>
<line x1="713.53" y1="562.14" x2="721.83" y2="562.14" stroke="#262626" stroke-width="2.7"/>
<text transform="translate(706.73 571.46) rotate(0.1) scale(1 1.008)" x="0" y="0" font-size="25.2" fill="#4d4d4d" stroke="#4d4d4d" stroke-width="0.45" text-anchor="end">0.200</text>
<line x1="713.53" y1="593.13" x2="721.83" y2="593.13" stroke="#262626" stroke-width="2.7"/>
<text transform="translate(706.73 602.45) rotate(0.1) scale(1 1.008)" x="0" y="0" font-size="25.2" fill="#4d4d4d" stroke="#4d4d4d" stroke-width="0.45" text-anchor="end">0.195</text>
<line x1="713.53" y1="624.12" x2="721.83" y2="624.12" stroke="#262626" stroke-width="2.7"/>
<text transform="translate(706.73 633.44) rotate(0.1) scale(1 1.008)" x="0" y="0" font-size="25.2" fill="#4d4d4d" stroke="#4d4d4d" stroke-width="0.45" text-anchor="end">0.190</text>
<path d="M731.28 560.5H789.08M731.28 598.16H789.08M760.18 560.5V598.16" fill="none" stroke="#6b6b6b" stroke-width="2.95"/>
<circle cx="760.18" cy="579.55" r="5.95" fill="#6b6b6b"/>
<path d="M795.83 601.48H853.63M795.83 640.68H853.63M824.73 601.48V640.68" fill="none" stroke="#2e96ff" stroke-width="2.95"/>
<rect x="818.83" y="615.29" width="11.8" height="11.8" fill="#2e96ff"/>
<path d="M860.38 602.14H918.18M860.38 642.23H918.18M889.28 602.14V642.23" fill="none" stroke="#ff9000" stroke-width="2.95"/>
<path d="M889.28 616.3L895.28 622.3L889.28 628.3L883.28 622.3Z" fill="#ff9000"/>
<line x1="766.63" y1="526.14" x2="882.82" y2="526.14" stroke="#000" stroke-width="3.5"/>
<text transform="translate(824.38 530.74) rotate(0.1) scale(1 1)" x="-8.7 8.7" y="0" font-size="35" font-weight="normal" fill="#000" stroke="#000" stroke-width="0.7" stroke-linejoin="round" text-anchor="middle">**</text>
<line x1="766.63" y1="552.24" x2="818.27" y2="552.24" stroke="#000" stroke-width="3.5"/>
<text transform="translate(792.1 556.84) rotate(0.1) scale(1 1)" x="-8.7 8.7" y="0" font-size="35" font-weight="normal" fill="#000" stroke="#000" stroke-width="0.7" stroke-linejoin="round" text-anchor="middle">**</text>
</g>
<g>
<rect x="1022.22" y="498.59" width="204.8" height="154.52" fill="#ffffff" stroke="#414141" stroke-width="1.6"/>
<rect x="1022.22" y="450.04" width="204.8" height="47.5" fill="#d9d9d9" stroke="#414141" stroke-width="1.6"/>
<text transform="translate(1124.62 482.74) rotate(0.1) scale(1 1.035)" x="0" y="0" font-size="25.2" fill="#1a1a1a" stroke="#1a1a1a" stroke-width="0.45" text-anchor="middle">CR (R)</text>
<line x1="1013.42" y1="524.82" x2="1021.72" y2="524.82" stroke="#262626" stroke-width="2.7"/>
<text transform="translate(1006.62 534.14) rotate(0.1) scale(1 1.008)" x="0" y="0" font-size="25.2" fill="#4d4d4d" stroke="#4d4d4d" stroke-width="0.45" text-anchor="end">0.205</text>
<line x1="1013.42" y1="560.24" x2="1021.72" y2="560.24" stroke="#262626" stroke-width="2.7"/>
<text transform="translate(1006.62 569.56) rotate(0.1) scale(1 1.008)" x="0" y="0" font-size="25.2" fill="#4d4d4d" stroke="#4d4d4d" stroke-width="0.45" text-anchor="end">0.200</text>
<line x1="1013.42" y1="595.65" x2="1021.72" y2="595.65" stroke="#262626" stroke-width="2.7"/>
<text transform="translate(1006.62 604.97) rotate(0.1) scale(1 1.008)" x="0" y="0" font-size="25.2" fill="#4d4d4d" stroke="#4d4d4d" stroke-width="0.45" text-anchor="end">0.195</text>
<line x1="1013.42" y1="631.07" x2="1021.72" y2="631.07" stroke="#262626" stroke-width="2.7"/>
<text transform="translate(1006.62 640.39) rotate(0.1) scale(1 1.008)" x="0" y="0" font-size="25.2" fill="#4d4d4d" stroke="#4d4d4d" stroke-width="0.45" text-anchor="end">0.190</text>
<path d="M1031.17 560.5H1088.97M1031.17 601.92H1088.97M1060.07 560.5V601.92" fill="none" stroke="#6b6b6b" stroke-width="2.95"/>
<circle cx="1060.07" cy="581.32" r="5.95" fill="#6b6b6b"/>
<path d="M1095.72 598.82H1153.52M1095.72 642.23H1153.52M1124.62 598.82V642.23" fill="none" stroke="#2e96ff" stroke-width="2.95"/>
<rect x="1118.72" y="614.63" width="11.8" height="11.8" fill="#2e96ff"/>
<path d="M1160.27 595.72H1218.07M1160.27 639.13H1218.07M1189.17 595.72V639.13" fill="none" stroke="#ff9000" stroke-width="2.95"/>
<path d="M1189.17 611.65L1195.17 617.65L1189.17 623.65L1183.17 617.65Z" fill="#ff9000"/>
<line x1="1066.52" y1="526.14" x2="1182.71" y2="526.14" stroke="#000" stroke-width="3.5"/>
<text transform="translate(1124.27 530.74) rotate(0.1) scale(1 1)" x="0" y="0" font-size="35" font-weight="normal" fill="#000" stroke="#000" stroke-width="0.7" stroke-linejoin="round" text-anchor="middle">*</text>
<line x1="1066.52" y1="552.24" x2="1118.16" y2="552.24" stroke="#000" stroke-width="3.5"/>
<text transform="translate(1091.99 556.84) rotate(0.1) scale(1 1)" x="0" y="0" font-size="35" font-weight="normal" fill="#000" stroke="#000" stroke-width="0.7" stroke-linejoin="round" text-anchor="middle">*</text>
</g>
<g>
<rect x="1322.11" y="498.59" width="204.8" height="154.52" fill="#ffffff" stroke="#414141" stroke-width="1.6"/>
<rect x="1322.11" y="450.04" width="204.8" height="47.5" fill="#d9d9d9" stroke="#414141" stroke-width="1.6"/>
<text transform="translate(1424.51 482.74) rotate(0.1) scale(1 1.035)" x="0" y="0" font-size="25.2" fill="#1a1a1a" stroke="#1a1a1a" stroke-width="0.45" text-anchor="middle">CST (L)</text>
<line x1="1313.31" y1="512.44" x2="1321.61" y2="512.44" stroke="#262626" stroke-width="2.7"/>
<text transform="translate(1306.51 521.76) rotate(0.1) scale(1 1.008)" x="0" y="0" font-size="25.2" fill="#4d4d4d" stroke="#4d4d4d" stroke-width="0.45" text-anchor="end">0.205</text>
<line x1="1313.31" y1="543.89" x2="1321.61" y2="543.89" stroke="#262626" stroke-width="2.7"/>
<text transform="translate(1306.51 553.21) rotate(0.1) scale(1 1.008)" x="0" y="0" font-size="25.2" fill="#4d4d4d" stroke="#4d4d4d" stroke-width="0.45" text-anchor="end">0.200</text>
<line x1="1313.31" y1="575.34" x2="1321.61" y2="575.34" stroke="#262626" stroke-width="2.7"/>
<text transform="translate(1306.51 584.66) rotate(0.1) scale(1 1.008)" x="0" y="0" font-size="25.2" fill="#4d4d4d" stroke="#4d4d4d" stroke-width="0.45" text-anchor="end">0.195</text>
<line x1="1313.31" y1="606.79" x2="1321.61" y2="606.79" stroke="#262626" stroke-width="2.7"/>
<text transform="translate(1306.51 616.11) rotate(0.1) scale(1 1.008)" x="0" y="0" font-size="25.2" fill="#4d4d4d" stroke="#4d4d4d" stroke-width="0.45" text-anchor="end">0.190</text>
<line x1="1313.31" y1="638.25" x2="1321.61" y2="638.25" stroke="#262626" stroke-width="2.7"/>
<text transform="translate(1306.51 647.57) rotate(0.1) scale(1 1.008)" x="0" y="0" font-size="25.2" fill="#4d4d4d" stroke="#4d4d4d" stroke-width="0.45" text-anchor="end">0.185</text>
<path d="M1331.06 560.5H1388.86M1331.06 600.37H1388.86M1359.96 560.5V600.37" fill="none" stroke="#6b6b6b" stroke-width="2.95"/>
<circle cx="1359.96" cy="580.88" r="5.95" fill="#6b6b6b"/>
<path d="M1395.61 597.49H1453.41M1395.61 639.13H1453.41M1424.51 597.49V639.13" fill="none" stroke="#2e96ff" stroke-width="2.95"/>
<rect x="1418.61" y="612.63" width="11.8" height="11.8" fill="#2e96ff"/>
<path d="M1460.16 599.71H1517.96M1460.16 642.23H1517.96M1489.06 599.71V642.23" fill="none" stroke="#ff9000" stroke-width="2.95"/>
<path d="M1489.06 614.75L1495.06 620.75L1489.06 626.75L1483.06 620.75Z" fill="#ff9000"/>
<line x1="1366.41" y1="526.14" x2="1482.61" y2="526.14" stroke="#000" stroke-width="3.5"/>
<text transform="translate(1424.16 530.74) rotate(0.1) scale(1 1)" x="0" y="0" font-size="35" font-weight="normal" fill="#000" stroke="#000" stroke-width="0.7" stroke-linejoin="round" text-anchor="middle">*</text>
<line x1="1366.41" y1="552.24" x2="1418.06" y2="552.24" stroke="#000" stroke-width="3.5"/>
<text transform="translate(1391.89 556.84) rotate(0.1) scale(1 1)" x="0" y="0" font-size="35" font-weight="normal" fill="#000" stroke="#000" stroke-width="0.7" stroke-linejoin="round" text-anchor="middle">*</text>
</g>
<g>
<rect x="122.55" y="719.46" width="204.8" height="154.52" fill="#ffffff" stroke="#414141" stroke-width="1.6"/>
<rect x="122.55" y="670.91" width="204.8" height="47.5" fill="#d9d9d9" stroke="#414141" stroke-width="1.6"/>
<text transform="translate(224.95 703.61) rotate(0.1) scale(1 1.035)" x="0" y="0" font-size="25.2" fill="#1a1a1a" stroke="#1a1a1a" stroke-width="0.45" text-anchor="middle">CST (R)</text>
<line x1="113.75" y1="742.89" x2="122.05" y2="742.89" stroke="#262626" stroke-width="2.7"/>
<text transform="translate(106.95 752.21) rotate(0.1) scale(1 1.008)" x="0" y="0" font-size="25.2" fill="#4d4d4d" stroke="#4d4d4d" stroke-width="0.45" text-anchor="end">0.205</text>
<line x1="113.75" y1="778.71" x2="122.05" y2="778.71" stroke="#262626" stroke-width="2.7"/>
<text transform="translate(106.95 788.03) rotate(0.1) scale(1 1.008)" x="0" y="0" font-size="25.2" fill="#4d4d4d" stroke="#4d4d4d" stroke-width="0.45" text-anchor="end">0.200</text>
<line x1="113.75" y1="814.53" x2="122.05" y2="814.53" stroke="#262626" stroke-width="2.7"/>
<text transform="translate(106.95 823.85) rotate(0.1) scale(1 1.008)" x="0" y="0" font-size="25.2" fill="#4d4d4d" stroke="#4d4d4d" stroke-width="0.45" text-anchor="end">0.195</text>
<line x1="113.75" y1="850.34" x2="122.05" y2="850.34" stroke="#262626" stroke-width="2.7"/>
<text transform="translate(106.95 859.66) rotate(0.1) scale(1 1.008)" x="0" y="0" font-size="25.2" fill="#4d4d4d" stroke="#4d4d4d" stroke-width="0.45" text-anchor="end">0.190</text>
<path d="M131.5 780.84H189.3M131.5 822.92H189.3M160.4 780.84V822.92" fill="none" stroke="#6b6b6b" stroke-width="2.95"/>
<circle cx="160.4" cy="802.32" r="5.95" fill="#6b6b6b"/>
<path d="M196.05 818.93H253.85M196.05 862.79H253.85M224.95 818.93V862.79" fill="none" stroke="#2e96ff" stroke-width="2.95"/>
<rect x="219.05" y="834.74" width="11.8" height="11.8" fill="#2e96ff"/>
<path d="M260.6 818.93H318.4M260.6 862.79H318.4M289.5 818.93V862.79" fill="none" stroke="#ff9000" stroke-width="2.95"/>
<path d="M289.5 834.64L295.5 840.64L289.5 846.64L283.5 840.64Z" fill="#ff9000"/>
<line x1="166.85" y1="747.01" x2="283.04" y2="747.01" stroke="#000" stroke-width="3.5"/>
<text transform="translate(224.6 751.61) rotate(0.1) scale(1 1)" x="0" y="0" font-size="35" font-weight="normal" fill="#000" stroke="#000" stroke-width="0.7" stroke-linejoin="round" text-anchor="middle">*</text>
<line x1="166.85" y1="773.11" x2="218.49" y2="773.11" stroke="#000" stroke-width="3.5"/>
<text transform="translate(192.32 777.71) rotate(0.1) scale(1 1)" x="0" y="0" font-size="35" font-weight="normal" fill="#000" stroke="#000" stroke-width="0.7" stroke-linejoin="round" text-anchor="middle">*</text>
</g>
<g>
<rect x="422.44" y="719.46" width="204.8" height="154.52" fill="#ffffff" stroke="#414141" stroke-width="1.6"/>
<rect x="422.44" y="670.91" width="204.8" height="47.5" fill="#d9d9d9" stroke="#414141" stroke-width="1.6"/>
<text transform="translate(524.84 703.61) rotate(0.1) scale(1 1.035)" x="0" y="0" font-size="25.2" fill="#1a1a1a" stroke="#1a1a1a" stroke-width="0.45" text-anchor="middle">IFOF (L)</text>
<line x1="413.64" y1="754.29" x2="421.94" y2="754.29" stroke="#262626" stroke-width="2.7"/>
<text transform="translate(406.84 763.61) rotate(0.1) scale(1 1.008)" x="0" y="0" font-size="25.2" fill="#4d4d4d" stroke="#4d4d4d" stroke-width="0.45" text-anchor="end">0.22</text>
<line x1="413.64" y1="806.9" x2="421.94" y2="806.9" stroke="#262626" stroke-width="2.7"/>
<text transform="translate(406.84 816.22) rotate(0.1) scale(1 1.008)" x="0" y="0" font-size="25.2" fill="#4d4d4d" stroke="#4d4d4d" stroke-width="0.45" text-anchor="end">0.21</text>
<line x1="413.64" y1="859.51" x2="421.94" y2="859.51" stroke="#262626" stroke-width="2.7"/>
<text transform="translate(406.84 868.83) rotate(0.1) scale(1 1.008)" x="0" y="0" font-size="25.2" fill="#4d4d4d" stroke="#4d4d4d" stroke-width="0.45" text-anchor="end">0.20</text>
<path d="M431.39 780.84H489.19M431.39 813.18H489.19M460.29 780.84V813.18" fill="none" stroke="#6b6b6b" stroke-width="2.95"/>
<circle cx="460.29" cy="797.23" r="5.95" fill="#6b6b6b"/>
<path d="M495.94 830.45H553.74M495.94 862.79H553.74M524.84 830.45V862.79" fill="none" stroke="#2e96ff" stroke-width="2.95"/>
<rect x="518.94" y="840.72" width="11.8" height="11.8" fill="#2e96ff"/>
<path d="M560.49 825.36H618.29M560.49 859.47H618.29M589.39 825.36V859.47" fill="none" stroke="#ff9000" stroke-width="2.95"/>
<path d="M589.39 836.64L595.39 842.64L589.39 848.64L583.39 842.64Z" fill="#ff9000"/>
<line x1="466.75" y1="747.01" x2="582.94" y2="747.01" stroke="#000" stroke-width="3.5"/>
<text transform="translate(524.49 751.61) rotate(0.1) scale(1 1)" x="-8.7 8.7" y="0" font-size="35" font-weight="normal" fill="#000" stroke="#000" stroke-width="0.7" stroke-linejoin="round" text-anchor="middle">**</text>
<line x1="466.75" y1="773.11" x2="518.38" y2="773.11" stroke="#000" stroke-width="3.5"/>
<text transform="translate(492.22 777.71) rotate(0.1) scale(1 1)" x="-17.4 0 17.4" y="0" font-size="35" font-weight="normal" fill="#000" stroke="#000" stroke-width="0.7" stroke-linejoin="round" text-anchor="middle">***</text>
</g>
<g>
<rect x="722.33" y="719.46" width="204.8" height="154.52" fill="#ffffff" stroke="#414141" stroke-width="1.6"/>
<rect x="722.33" y="670.91" width="204.8" height="47.5" fill="#d9d9d9" stroke="#414141" stroke-width="1.6"/>
<text transform="translate(824.73 703.61) rotate(0.1) scale(1 1.035)" x="0" y="0" font-size="25.2" fill="#1a1a1a" stroke="#1a1a1a" stroke-width="0.45" text-anchor="middle">IFOF (R)</text>
<line x1="713.53" y1="738.04" x2="721.83" y2="738.04" stroke="#262626" stroke-width="2.7"/>
<text transform="translate(706.73 747.36) rotate(0.1) scale(1 1.008)" x="0" y="0" font-size="25.2" fill="#4d4d4d" stroke="#4d4d4d" stroke-width="0.45" text-anchor="end">0.220</text>
<line x1="713.53" y1="766.51" x2="721.83" y2="766.51" stroke="#262626" stroke-width="2.7"/>
<text transform="translate(706.73 775.83) rotate(0.1) scale(1 1.008)" x="0" y="0" font-size="25.2" fill="#4d4d4d" stroke="#4d4d4d" stroke-width="0.45" text-anchor="end">0.215</text>
<line x1="713.53" y1="794.97" x2="721.83" y2="794.97" stroke="#262626" stroke-width="2.7"/>
<text transform="translate(706.73 804.29) rotate(0.1) scale(1 1.008)" x="0" y="0" font-size="25.2" fill="#4d4d4d" stroke="#4d4d4d" stroke-width="0.45" text-anchor="end">0.210</text>
<line x1="713.53" y1="823.43" x2="721.83" y2="823.43" stroke="#262626" stroke-width="2.7"/>
<text transform="translate(706.73 832.75) rotate(0.1) scale(1 1.008)" x="0" y="0" font-size="25.2" fill="#4d4d4d" stroke="#4d4d4d" stroke-width="0.45" text-anchor="end">0.205</text>
<line x1="713.53" y1="851.89" x2="721.83" y2="851.89" stroke="#262626" stroke-width="2.7"/>
<text transform="translate(706.73 861.21) rotate(0.1) scale(1 1.008)" x="0" y="0" font-size="25.2" fill="#4d4d4d" stroke="#4d4d4d" stroke-width="0.45" text-anchor="end">0.200</text>
<path d="M731.28 780.84H789.08M731.28 819.38H789.08M760.18 780.84V819.38" fill="none" stroke="#6b6b6b" stroke-width="2.95"/>
<circle cx="760.18" cy="800.55" r="5.95" fill="#6b6b6b"/>
<path d="M795.83 825.36H853.63M795.83 862.79H853.63M824.73 825.36V862.79" fill="none" stroke="#2e96ff" stroke-width="2.95"/>
<rect x="818.83" y="838.29" width="11.8" height="11.8" fill="#2e96ff"/>
<path d="M860.38 815.83H918.18M860.38 857.48H918.18M889.28 815.83V857.48" fill="none" stroke="#ff9000" stroke-width="2.95"/>
<path d="M889.28 830.88L895.28 836.88L889.28 842.88L883.28 836.88Z" fill="#ff9000"/>
<line x1="766.63" y1="747.01" x2="882.82" y2="747.01" stroke="#000" stroke-width="3.5"/>
<text transform="translate(824.38 751.61) rotate(0.1) scale(1 1)" x="0" y="0" font-size="35" font-weight="normal" fill="#000" stroke="#000" stroke-width="0.7" stroke-linejoin="round" text-anchor="middle">*</text>
<line x1="766.63" y1="773.11" x2="818.27" y2="773.11" stroke="#000" stroke-width="3.5"/>
<text transform="translate(792.1 777.71) rotate(0.1) scale(1 1)" x="-8.7 8.7" y="0" font-size="35" font-weight="normal" fill="#000" stroke="#000" stroke-width="0.7" stroke-linejoin="round" text-anchor="middle">**</text>
</g>
<g>
<rect x="1022.22" y="719.46" width="204.8" height="154.52" fill="#ffffff" stroke="#414141" stroke-width="1.6"/>
<rect x="1022.22" y="670.91" width="204.8" height="47.5" fill="#d9d9d9" stroke="#414141" stroke-width="1.6"/>
<text transform="translate(1124.62 703.61) rotate(0.1) scale(1 1.035)" x="0" y="0" font-size="25.2" fill="#1a1a1a" stroke="#1a1a1a" stroke-width="0.45" text-anchor="middle">ILF (L)</text>
<line x1="1013.42" y1="740.79" x2="1021.72" y2="740.79" stroke="#262626" stroke-width="2.7"/>
<text transform="translate(1006.62 750.11) rotate(0.1) scale(1 1.008)" x="0" y="0" font-size="25.2" fill="#4d4d4d" stroke="#4d4d4d" stroke-width="0.45" text-anchor="end">0.230</text>
<line x1="1013.42" y1="768.57" x2="1021.72" y2="768.57" stroke="#262626" stroke-width="2.7"/>
<text transform="translate(1006.62 777.89) rotate(0.1) scale(1 1.008)" x="0" y="0" font-size="25.2" fill="#4d4d4d" stroke="#4d4d4d" stroke-width="0.45" text-anchor="end">0.225</text>
<line x1="1013.42" y1="796.34" x2="1021.72" y2="796.34" stroke="#262626" stroke-width="2.7"/>
<text transform="translate(1006.62 805.66) rotate(0.1) scale(1 1.008)" x="0" y="0" font-size="25.2" fill="#4d4d4d" stroke="#4d4d4d" stroke-width="0.45" text-anchor="end">0.220</text>
<line x1="1013.42" y1="824.12" x2="1021.72" y2="824.12" stroke="#262626" stroke-width="2.7"/>
<text transform="translate(1006.62 833.44) rotate(0.1) scale(1 1.008)" x="0" y="0" font-size="25.2" fill="#4d4d4d" stroke="#4d4d4d" stroke-width="0.45" text-anchor="end">0.215</text>
<line x1="1013.42" y1="851.89" x2="1021.72" y2="851.89" stroke="#262626" stroke-width="2.7"/>
<text transform="translate(1006.62 861.21) rotate(0.1) scale(1 1.008)" x="0" y="0" font-size="25.2" fill="#4d4d4d" stroke="#4d4d4d" stroke-width="0.45" text-anchor="end">0.210</text>
<path d="M1031.17 780.84H1088.97M1031.17 811.63H1088.97M1060.07 780.84V811.63" fill="none" stroke="#6b6b6b" stroke-width="2.95"/>
<circle cx="1060.07" cy="796.34" r="5.95" fill="#6b6b6b"/>
<path d="M1095.72 830.67H1153.52M1095.72 862.79H1153.52M1124.62 830.67V862.79" fill="none" stroke="#2e96ff" stroke-width="2.95"/>
<rect x="1118.72" y="840.94" width="11.8" height="11.8" fill="#2e96ff"/>
<path d="M1160.27 814.95H1218.07M1160.27 846.62H1218.07M1189.17 814.95V846.62" fill="none" stroke="#ff9000" stroke-width="2.95"/>
<path d="M1189.17 825.12L1195.17 831.12L1189.17 837.12L1183.17 831.12Z" fill="#ff9000"/>
<line x1="1066.52" y1="747.01" x2="1182.71" y2="747.01" stroke="#000" stroke-width="3.5"/>
<text transform="translate(1124.27 751.61) rotate(0.1) scale(1 1)" x="-8.7 8.7" y="0" font-size="35" font-weight="normal" fill="#000" stroke="#000" stroke-width="0.7" stroke-linejoin="round" text-anchor="middle">**</text>
<line x1="1066.52" y1="773.11" x2="1118.16" y2="773.11" stroke="#000" stroke-width="3.5"/>
<text transform="translate(1091.99 777.71) rotate(0.1) scale(1 1)" x="-17.4 0 17.4" y="0" font-size="35" font-weight="normal" fill="#000" stroke="#000" stroke-width="0.7" stroke-linejoin="round" text-anchor="middle">***</text>
</g>
<g>
<rect x="1322.11" y="719.46" width="204.8" height="154.52" fill="#ffffff" stroke="#414141" stroke-width="1.6"/>
<rect x="1322.11" y="670.91" width="204.8" height="47.5" fill="#d9d9d9" stroke="#414141" stroke-width="1.6"/>
<text transform="translate(1424.51 703.61) rotate(0.1) scale(1 1.035)" x="0" y="0" font-size="25.2" fill="#1a1a1a" stroke="#1a1a1a" stroke-width="0.45" text-anchor="middle">ILF (R)</text>
<line x1="1313.31" y1="754.39" x2="1321.61" y2="754.39" stroke="#262626" stroke-width="2.7"/>
<text transform="translate(1306.51 763.71) rotate(0.1) scale(1 1.008)" x="0" y="0" font-size="25.2" fill="#4d4d4d" stroke="#4d4d4d" stroke-width="0.45" text-anchor="end">0.220</text>
<line x1="1313.31" y1="793.95" x2="1321.61" y2="793.95" stroke="#262626" stroke-width="2.7"/>
<text transform="translate(1306.51 803.27) rotate(0.1) scale(1 1.008)" x="0" y="0" font-size="25.2" fill="#4d4d4d" stroke="#4d4d4d" stroke-width="0.45" text-anchor="end">0.215</text>
<line x1="1313.31" y1="833.51" x2="1321.61" y2="833.51" stroke="#262626" stroke-width="2.7"/>
<text transform="translate(1306.51 842.83) rotate(0.1) scale(1 1.008)" x="0" y="0" font-size="25.2" fill="#4d4d4d" stroke="#4d4d4d" stroke-width="0.45" text-anchor="end">0.210</text>
<line x1="1313.31" y1="873.07" x2="1321.61" y2="873.07" stroke="#262626" stroke-width="2.7"/>
<text transform="translate(1306.51 882.39) rotate(0.1) scale(1 1.008)" x="0" y="0" font-size="25.2" fill="#4d4d4d" stroke="#4d4d4d" stroke-width="0.45" text-anchor="end">0.205</text>
<path d="M1331.06 758.24H1388.86M1331.06 804.32H1388.86M1359.96 758.24V804.32" fill="none" stroke="#6b6b6b" stroke-width="2.95"/>
<circle cx="1359.96" cy="781.94" r="5.95" fill="#6b6b6b"/>
<path d="M1395.61 814.95H1453.41M1395.61 862.79H1453.41M1424.51 814.95V862.79" fill="none" stroke="#2e96ff" stroke-width="2.95"/>
<rect x="1418.61" y="833.19" width="11.8" height="11.8" fill="#2e96ff"/>
<path d="M1460.16 783.5H1517.96M1460.16 831.12H1517.96M1489.06 783.5V831.12" fill="none" stroke="#ff9000" stroke-width="2.95"/>
<path d="M1489.06 801.64L1495.06 807.64L1489.06 813.64L1483.06 807.64Z" fill="#ff9000"/>
<line x1="1366.41" y1="748.01" x2="1418.06" y2="748.01" stroke="#000" stroke-width="3.5"/>
<text transform="translate(1391.89 752.61) rotate(0.1) scale(1 1)" x="-8.7 8.7" y="0" font-size="35" font-weight="normal" fill="#000" stroke="#000" stroke-width="0.7" stroke-linejoin="round" text-anchor="middle">**</text>
</g>
<g>
<rect x="122.55" y="940.33" width="204.8" height="154.52" fill="#ffffff" stroke="#414141" stroke-width="1.6"/>
<rect x="122.55" y="891.78" width="204.8" height="47.5" fill="#d9d9d9" stroke="#414141" stroke-width="1.6"/>
<text transform="translate(224.95 924.48) rotate(0.1) scale(1 1.035)" x="0" y="0" font-size="25.2" fill="#1a1a1a" stroke="#1a1a1a" stroke-width="0.45" text-anchor="middle">OR (L)</text>
<line x1="113.75" y1="993.2" x2="122.05" y2="993.2" stroke="#262626" stroke-width="2.7"/>
<text transform="translate(106.95 1002.52) rotate(0.1) scale(1 1.008)" x="0" y="0" font-size="25.2" fill="#4d4d4d" stroke="#4d4d4d" stroke-width="0.45" text-anchor="end">0.22</text>
<line x1="113.75" y1="1051.67" x2="122.05" y2="1051.67" stroke="#262626" stroke-width="2.7"/>
<text transform="translate(106.95 1060.99) rotate(0.1) scale(1 1.008)" x="0" y="0" font-size="25.2" fill="#4d4d4d" stroke="#4d4d4d" stroke-width="0.45" text-anchor="end">0.21</text>
<path d="M131.5 1001.62H189.3M131.5 1036.17H189.3M160.4 1001.62V1036.17" fill="none" stroke="#6b6b6b" stroke-width="2.95"/>
<circle cx="160.4" cy="1019.11" r="5.95" fill="#6b6b6b"/>
<path d="M196.05 1038.61H253.85M196.05 1074.71H253.85M224.95 1038.61V1074.71" fill="none" stroke="#2e96ff" stroke-width="2.95"/>
<rect x="219.05" y="1051.09" width="11.8" height="11.8" fill="#2e96ff"/>
<path d="M260.6 1047.91H318.4M260.6 1083.57H318.4M289.5 1047.91V1083.57" fill="none" stroke="#ff9000" stroke-width="2.95"/>
<path d="M289.5 1059.85L295.5 1065.85L289.5 1071.85L283.5 1065.85Z" fill="#ff9000"/>
<line x1="166.85" y1="967.88" x2="283.04" y2="967.88" stroke="#000" stroke-width="3.5"/>
<text transform="translate(224.6 972.48) rotate(0.1) scale(1 1)" x="-8.7 8.7" y="0" font-size="35" font-weight="normal" fill="#000" stroke="#000" stroke-width="0.7" stroke-linejoin="round" text-anchor="middle">**</text>
<line x1="166.85" y1="993.98" x2="218.49" y2="993.98" stroke="#000" stroke-width="3.5"/>
<text transform="translate(192.32 998.58) rotate(0.1) scale(1 1)" x="-8.7 8.7" y="0" font-size="35" font-weight="normal" fill="#000" stroke="#000" stroke-width="0.7" stroke-linejoin="round" text-anchor="middle">**</text>
</g>
<g>
<rect x="422.44" y="940.33" width="204.8" height="154.52" fill="#ffffff" stroke="#414141" stroke-width="1.6"/>
<rect x="422.44" y="891.78" width="204.8" height="47.5" fill="#d9d9d9" stroke="#414141" stroke-width="1.6"/>
<text transform="translate(524.84 924.48) rotate(0.1) scale(1 1.035)" x="0" y="0" font-size="25.2" fill="#1a1a1a" stroke="#1a1a1a" stroke-width="0.45" text-anchor="middle">OR (R)</text>
<line x1="413.64" y1="944.56" x2="421.94" y2="944.56" stroke="#262626" stroke-width="2.7"/>
<text transform="translate(406.84 953.88) rotate(0.1) scale(1 1.008)" x="0" y="0" font-size="25.2" fill="#4d4d4d" stroke="#4d4d4d" stroke-width="0.45" text-anchor="end">0.225</text>
<line x1="413.64" y1="980.11" x2="421.94" y2="980.11" stroke="#262626" stroke-width="2.7"/>
<text transform="translate(406.84 989.43) rotate(0.1) scale(1 1.008)" x="0" y="0" font-size="25.2" fill="#4d4d4d" stroke="#4d4d4d" stroke-width="0.45" text-anchor="end">0.220</text>
<line x1="413.64" y1="1015.66" x2="421.94" y2="1015.66" stroke="#262626" stroke-width="2.7"/>
<text transform="translate(406.84 1024.98) rotate(0.1) scale(1 1.008)" x="0" y="0" font-size="25.2" fill="#4d4d4d" stroke="#4d4d4d" stroke-width="0.45" text-anchor="end">0.215</text>
<line x1="413.64" y1="1051.21" x2="421.94" y2="1051.21" stroke="#262626" stroke-width="2.7"/>
<text transform="translate(406.84 1060.53) rotate(0.1) scale(1 1.008)" x="0" y="0" font-size="25.2" fill="#4d4d4d" stroke="#4d4d4d" stroke-width="0.45" text-anchor="end">0.210</text>
<line x1="413.64" y1="1086.76" x2="421.94" y2="1086.76" stroke="#262626" stroke-width="2.7"/>
<text transform="translate(406.84 1096.08) rotate(0.1) scale(1 1.008)" x="0" y="0" font-size="25.2" fill="#4d4d4d" stroke="#4d4d4d" stroke-width="0.45" text-anchor="end">0.205</text>
<path d="M431.39 1001.62H489.19M431.39 1047.47H489.19M460.29 1001.62V1047.47" fill="none" stroke="#6b6b6b" stroke-width="2.95"/>
<circle cx="460.29" cy="1024.87" r="5.95" fill="#6b6b6b"/>
<path d="M495.94 1035.28H553.74M495.94 1082.68H553.74M524.84 1035.28V1082.68" fill="none" stroke="#2e96ff" stroke-width="2.95"/>
<rect x="518.94" y="1053.31" width="11.8" height="11.8" fill="#2e96ff"/>
<path d="M560.49 1036.39H618.29M560.49 1083.57H618.29M589.39 1036.39V1083.57" fill="none" stroke="#ff9000" stroke-width="2.95"/>
<path d="M589.39 1054.09L595.39 1060.09L589.39 1066.09L583.39 1060.09Z" fill="#ff9000"/>
<line x1="466.75" y1="967.88" x2="582.94" y2="967.88" stroke="#000" stroke-width="3.5"/>
<text transform="translate(524.49 972.48) rotate(0.1) scale(1 1)" x="0" y="0" font-size="35" font-weight="normal" fill="#000" stroke="#000" stroke-width="0.7" stroke-linejoin="round" text-anchor="middle">*</text>
<line x1="466.75" y1="993.98" x2="518.38" y2="993.98" stroke="#000" stroke-width="3.5"/>
<text transform="translate(492.22 998.58) rotate(0.1) scale(1 1)" x="0" y="0" font-size="35" font-weight="normal" fill="#000" stroke="#000" stroke-width="0.7" stroke-linejoin="round" text-anchor="middle">*</text>
</g>
<g>
<rect x="722.33" y="940.33" width="204.8" height="154.52" fill="#ffffff" stroke="#414141" stroke-width="1.6"/>
<rect x="722.33" y="891.78" width="204.8" height="47.5" fill="#d9d9d9" stroke="#414141" stroke-width="1.6"/>
<text transform="translate(824.73 924.48) rotate(0.1) scale(1 1.035)" x="0" y="0" font-size="25.2" fill="#1a1a1a" stroke="#1a1a1a" stroke-width="0.45" text-anchor="middle">SLF I (L)</text>
<line x1="713.53" y1="943.85" x2="721.83" y2="943.85" stroke="#262626" stroke-width="2.7"/>
<text transform="translate(706.73 953.17) rotate(0.1) scale(1 1.008)" x="0" y="0" font-size="25.2" fill="#4d4d4d" stroke="#4d4d4d" stroke-width="0.45" text-anchor="end">0.23</text>
<line x1="713.53" y1="992.73" x2="721.83" y2="992.73" stroke="#262626" stroke-width="2.7"/>
<text transform="translate(706.73 1002.05) rotate(0.1) scale(1 1.008)" x="0" y="0" font-size="25.2" fill="#4d4d4d" stroke="#4d4d4d" stroke-width="0.45" text-anchor="end">0.22</text>
<line x1="713.53" y1="1041.62" x2="721.83" y2="1041.62" stroke="#262626" stroke-width="2.7"/>
<text transform="translate(706.73 1050.94) rotate(0.1) scale(1 1.008)" x="0" y="0" font-size="25.2" fill="#4d4d4d" stroke="#4d4d4d" stroke-width="0.45" text-anchor="end">0.21</text>
<line x1="713.53" y1="1090.5" x2="721.83" y2="1090.5" stroke="#262626" stroke-width="2.7"/>
<text transform="translate(706.73 1099.82) rotate(0.1) scale(1 1.008)" x="0" y="0" font-size="25.2" fill="#4d4d4d" stroke="#4d4d4d" stroke-width="0.45" text-anchor="end">0.20</text>
<path d="M731.28 1001.62H789.08M731.28 1033.95H789.08M760.18 1001.62V1033.95" fill="none" stroke="#6b6b6b" stroke-width="2.95"/>
<circle cx="760.18" cy="1018.01" r="5.95" fill="#6b6b6b"/>
<path d="M795.83 1049.9H853.63M795.83 1083.57H853.63M824.73 1049.9V1083.57" fill="none" stroke="#2e96ff" stroke-width="2.95"/>
<rect x="818.83" y="1061.06" width="11.8" height="11.8" fill="#2e96ff"/>
<path d="M860.38 1035.95H918.18M860.38 1068.73H918.18M889.28 1035.95V1068.73" fill="none" stroke="#ff9000" stroke-width="2.95"/>
<path d="M889.28 1046.78L895.28 1052.78L889.28 1058.78L883.28 1052.78Z" fill="#ff9000"/>
<line x1="766.63" y1="967.88" x2="882.82" y2="967.88" stroke="#000" stroke-width="3.5"/>
<text transform="translate(824.38 972.48) rotate(0.1) scale(1 1)" x="-8.7 8.7" y="0" font-size="35" font-weight="normal" fill="#000" stroke="#000" stroke-width="0.7" stroke-linejoin="round" text-anchor="middle">**</text>
<line x1="766.63" y1="993.98" x2="818.27" y2="993.98" stroke="#000" stroke-width="3.5"/>
<text transform="translate(792.1 998.58) rotate(0.1) scale(1 1)" x="-17.4 0 17.4" y="0" font-size="35" font-weight="normal" fill="#000" stroke="#000" stroke-width="0.7" stroke-linejoin="round" text-anchor="middle">***</text>
</g>
<g>
<rect x="1022.22" y="940.33" width="204.8" height="154.52" fill="#ffffff" stroke="#414141" stroke-width="1.6"/>
<rect x="1022.22" y="891.78" width="204.8" height="47.5" fill="#d9d9d9" stroke="#414141" stroke-width="1.6"/>
<text transform="translate(1124.62 924.48) rotate(0.1) scale(1 1.035)" x="0" y="0" font-size="25.2" fill="#1a1a1a" stroke="#1a1a1a" stroke-width="0.45" text-anchor="middle">SLF I (R)</text>
<line x1="1013.42" y1="986.78" x2="1021.72" y2="986.78" stroke="#262626" stroke-width="2.7"/>
<text transform="translate(1006.62 996.1) rotate(0.1) scale(1 1.008)" x="0" y="0" font-size="25.2" fill="#4d4d4d" stroke="#4d4d4d" stroke-width="0.45" text-anchor="end">0.22</text>
<line x1="1013.42" y1="1047.02" x2="1021.72" y2="1047.02" stroke="#262626" stroke-width="2.7"/>
<text transform="translate(1006.62 1056.34) rotate(0.1) scale(1 1.008)" x="0" y="0" font-size="25.2" fill="#4d4d4d" stroke="#4d4d4d" stroke-width="0.45" text-anchor="end">0.21</text>
<path d="M1031.17 1001.62H1088.97M1031.17 1040.16H1088.97M1060.07 1001.62V1040.16" fill="none" stroke="#6b6b6b" stroke-width="2.95"/>
<circle cx="1060.07" cy="1021.11" r="5.95" fill="#6b6b6b"/>
<path d="M1095.72 1043.04H1153.52M1095.72 1083.57H1153.52M1124.62 1043.04V1083.57" fill="none" stroke="#2e96ff" stroke-width="2.95"/>
<rect x="1118.72" y="1057.74" width="11.8" height="11.8" fill="#2e96ff"/>
<path d="M1160.27 1039.71H1218.07M1160.27 1079.14H1218.07M1189.17 1039.71V1079.14" fill="none" stroke="#ff9000" stroke-width="2.95"/>
<path d="M1189.17 1053.65L1195.17 1059.65L1189.17 1065.65L1183.17 1059.65Z" fill="#ff9000"/>
<line x1="1066.52" y1="967.88" x2="1182.71" y2="967.88" stroke="#000" stroke-width="3.5"/>
<text transform="translate(1124.27 972.48) rotate(0.1) scale(1 1)" x="0" y="0" font-size="35" font-weight="normal" fill="#000" stroke="#000" stroke-width="0.7" stroke-linejoin="round" text-anchor="middle">*</text>
<line x1="1066.52" y1="993.98" x2="1118.16" y2="993.98" stroke="#000" stroke-width="3.5"/>
<text transform="translate(1091.99 998.58) rotate(0.1) scale(1 1)" x="-8.7 8.7" y="0" font-size="35" font-weight="normal" fill="#000" stroke="#000" stroke-width="0.7" stroke-linejoin="round" text-anchor="middle">**</text>
</g>
<g>
<rect x="1322.11" y="940.33" width="204.8" height="154.52" fill="#ffffff" stroke="#414141" stroke-width="1.6"/>
<rect x="1322.11" y="891.78" width="204.8" height="47.5" fill="#d9d9d9" stroke="#414141" stroke-width="1.6"/>
<text transform="translate(1424.51 924.48) rotate(0.1) scale(1 1.035)" x="0" y="0" font-size="25.2" fill="#1a1a1a" stroke="#1a1a1a" stroke-width="0.45" text-anchor="middle">SLF II (L)</text>
<line x1="1313.31" y1="987.18" x2="1321.61" y2="987.18" stroke="#262626" stroke-width="2.7"/>
<text transform="translate(1306.51 996.5) rotate(0.1) scale(1 1.008)" x="0" y="0" font-size="25.2" fill="#4d4d4d" stroke="#4d4d4d" stroke-width="0.45" text-anchor="end">0.22</text>
<line x1="1313.31" y1="1037.35" x2="1321.61" y2="1037.35" stroke="#262626" stroke-width="2.7"/>
<text transform="translate(1306.51 1046.67) rotate(0.1) scale(1 1.008)" x="0" y="0" font-size="25.2" fill="#4d4d4d" stroke="#4d4d4d" stroke-width="0.45" text-anchor="end">0.21</text>
<line x1="1313.31" y1="1087.52" x2="1321.61" y2="1087.52" stroke="#262626" stroke-width="2.7"/>
<text transform="translate(1306.51 1096.84) rotate(0.1) scale(1 1.008)" x="0" y="0" font-size="25.2" fill="#4d4d4d" stroke="#4d4d4d" stroke-width="0.45" text-anchor="end">0.20</text>
<path d="M1331.06 1001.62H1388.86M1331.06 1032.4H1388.86M1359.96 1001.62V1032.4" fill="none" stroke="#6b6b6b" stroke-width="2.95"/>
<circle cx="1359.96" cy="1017.34" r="5.95" fill="#6b6b6b"/>
<path d="M1395.61 1051.67H1453.41M1395.61 1083.57H1453.41M1424.51 1051.67V1083.57" fill="none" stroke="#2e96ff" stroke-width="2.95"/>
<rect x="1418.61" y="1061.94" width="11.8" height="11.8" fill="#2e96ff"/>
<path d="M1460.16 1041.93H1517.96M1460.16 1073.6H1517.96M1489.06 1041.93V1073.6" fill="none" stroke="#ff9000" stroke-width="2.95"/>
<path d="M1489.06 1052.1L1495.06 1058.1L1489.06 1064.1L1483.06 1058.1Z" fill="#ff9000"/>
<line x1="1366.41" y1="967.88" x2="1482.61" y2="967.88" stroke="#000" stroke-width="3.5"/>
<text transform="translate(1424.16 972.48) rotate(0.1) scale(1 1)" x="-8.7 8.7" y="0" font-size="35" font-weight="normal" fill="#000" stroke="#000" stroke-width="0.7" stroke-linejoin="round" text-anchor="middle">**</text>
<line x1="1366.41" y1="993.98" x2="1418.06" y2="993.98" stroke="#000" stroke-width="3.5"/>
<text transform="translate(1391.89 998.58) rotate(0.1) scale(1 1)" x="-17.4 0 17.4" y="0" font-size="35" font-weight="normal" fill="#000" stroke="#000" stroke-width="0.7" stroke-linejoin="round" text-anchor="middle">***</text>
</g>
<g>
<rect x="122.55" y="1161.2" width="204.8" height="154.52" fill="#ffffff" stroke="#414141" stroke-width="1.6"/>
<rect x="122.55" y="1112.65" width="204.8" height="47.5" fill="#d9d9d9" stroke="#414141" stroke-width="1.6"/>
<text transform="translate(224.95 1145.35) rotate(0.1) scale(1 1.035)" x="0" y="0" font-size="25.2" fill="#1a1a1a" stroke="#1a1a1a" stroke-width="0.45" text-anchor="middle">SLF II (R)</text>
<line x1="113.75" y1="1172.82" x2="122.05" y2="1172.82" stroke="#262626" stroke-width="2.7"/>
<text transform="translate(106.95 1182.14) rotate(0.1) scale(1 1.008)" x="0" y="0" font-size="25.2" fill="#4d4d4d" stroke="#4d4d4d" stroke-width="0.45" text-anchor="end">0.225</text>
<line x1="113.75" y1="1205.05" x2="122.05" y2="1205.05" stroke="#262626" stroke-width="2.7"/>
<text transform="translate(106.95 1214.37) rotate(0.1) scale(1 1.008)" x="0" y="0" font-size="25.2" fill="#4d4d4d" stroke="#4d4d4d" stroke-width="0.45" text-anchor="end">0.220</text>
<line x1="113.75" y1="1237.28" x2="122.05" y2="1237.28" stroke="#262626" stroke-width="2.7"/>
<text transform="translate(106.95 1246.6) rotate(0.1) scale(1 1.008)" x="0" y="0" font-size="25.2" fill="#4d4d4d" stroke="#4d4d4d" stroke-width="0.45" text-anchor="end">0.215</text>
<line x1="113.75" y1="1269.51" x2="122.05" y2="1269.51" stroke="#262626" stroke-width="2.7"/>
<text transform="translate(106.95 1278.83) rotate(0.1) scale(1 1.008)" x="0" y="0" font-size="25.2" fill="#4d4d4d" stroke="#4d4d4d" stroke-width="0.45" text-anchor="end">0.210</text>
<line x1="113.75" y1="1301.73" x2="122.05" y2="1301.73" stroke="#262626" stroke-width="2.7"/>
<text transform="translate(106.95 1311.05) rotate(0.1) scale(1 1.008)" x="0" y="0" font-size="25.2" fill="#4d4d4d" stroke="#4d4d4d" stroke-width="0.45" text-anchor="end">0.205</text>
<line x1="160.4" y1="1316.22" x2="160.4" y2="1324.12" stroke="#262626" stroke-width="2.7"/>
<text transform="translate(160.4 1348.87) rotate(0.1) scale(1 1.035)" x="0" y="0" font-size="25.2" fill="#4d4d4d" stroke="#4d4d4d" stroke-width="0.45" text-anchor="middle">CTL</text>
<line x1="224.95" y1="1316.22" x2="224.95" y2="1324.12" stroke="#262626" stroke-width="2.7"/>
<text transform="translate(224.95 1348.87) rotate(0.1) scale(1 1.035)" x="0" y="0" font-size="25.2" fill="#4d4d4d" stroke="#4d4d4d" stroke-width="0.45" text-anchor="middle">CHD</text>
<line x1="289.5" y1="1316.22" x2="289.5" y2="1324.12" stroke="#262626" stroke-width="2.7"/>
<text transform="translate(289.5 1348.87) rotate(0.1) scale(1 1.035)" x="0" y="0" font-size="25.2" fill="#4d4d4d" stroke="#4d4d4d" stroke-width="0.45" text-anchor="middle">PT</text>
<path d="M131.5 1222.62H189.3M131.5 1260.93H189.3M160.4 1222.62V1260.93" fill="none" stroke="#6b6b6b" stroke-width="2.95"/>
<circle cx="160.4" cy="1241.89" r="5.95" fill="#6b6b6b"/>
<path d="M196.05 1253.18H253.85M196.05 1293.27H253.85M224.95 1253.18V1293.27" fill="none" stroke="#2e96ff" stroke-width="2.95"/>
<rect x="219.05" y="1267.44" width="11.8" height="11.8" fill="#2e96ff"/>
<path d="M260.6 1264.92H318.4M260.6 1304.57H318.4M289.5 1264.92V1304.57" fill="none" stroke="#ff9000" stroke-width="2.95"/>
<path d="M289.5 1278.86L295.5 1284.86L289.5 1290.86L283.5 1284.86Z" fill="#ff9000"/>
<line x1="166.85" y1="1188.75" x2="283.04" y2="1188.75" stroke="#000" stroke-width="3.5"/>
<text transform="translate(224.6 1193.35) rotate(0.1) scale(1 1)" x="-8.7 8.7" y="0" font-size="35" font-weight="normal" fill="#000" stroke="#000" stroke-width="0.7" stroke-linejoin="round" text-anchor="middle">**</text>
<line x1="166.85" y1="1214.85" x2="218.49" y2="1214.85" stroke="#000" stroke-width="3.5"/>
<text transform="translate(192.32 1219.45) rotate(0.1) scale(1 1)" x="0" y="0" font-size="35" font-weight="normal" fill="#000" stroke="#000" stroke-width="0.7" stroke-linejoin="round" text-anchor="middle">*</text>
</g>
<g>
<rect x="422.44" y="1161.2" width="204.8" height="154.52" fill="#ffffff" stroke="#414141" stroke-width="1.6"/>
<rect x="422.44" y="1112.65" width="204.8" height="47.5" fill="#d9d9d9" stroke="#414141" stroke-width="1.6"/>
<text transform="translate(524.84 1145.35) rotate(0.1) scale(1 1.035)" x="0" y="0" font-size="25.2" fill="#1a1a1a" stroke="#1a1a1a" stroke-width="0.45" text-anchor="middle">SLF III (L)</text>
<line x1="413.64" y1="1170.53" x2="421.94" y2="1170.53" stroke="#262626" stroke-width="2.7"/>
<text transform="translate(406.84 1179.85) rotate(0.1) scale(1 1.008)" x="0" y="0" font-size="25.2" fill="#4d4d4d" stroke="#4d4d4d" stroke-width="0.45" text-anchor="end">0.23</text>
<line x1="413.64" y1="1221.14" x2="421.94" y2="1221.14" stroke="#262626" stroke-width="2.7"/>
<text transform="translate(406.84 1230.46) rotate(0.1) scale(1 1.008)" x="0" y="0" font-size="25.2" fill="#4d4d4d" stroke="#4d4d4d" stroke-width="0.45" text-anchor="end">0.22</text>
<line x1="413.64" y1="1271.75" x2="421.94" y2="1271.75" stroke="#262626" stroke-width="2.7"/>
<text transform="translate(406.84 1281.07) rotate(0.1) scale(1 1.008)" x="0" y="0" font-size="25.2" fill="#4d4d4d" stroke="#4d4d4d" stroke-width="0.45" text-anchor="end">0.21</text>
<line x1="460.29" y1="1316.22" x2="460.29" y2="1324.12" stroke="#262626" stroke-width="2.7"/>
<text transform="translate(460.29 1348.87) rotate(0.1) scale(1 1.035)" x="0" y="0" font-size="25.2" fill="#4d4d4d" stroke="#4d4d4d" stroke-width="0.45" text-anchor="middle">CTL</text>
<line x1="524.84" y1="1316.22" x2="524.84" y2="1324.12" stroke="#262626" stroke-width="2.7"/>
<text transform="translate(524.84 1348.87) rotate(0.1) scale(1 1.035)" x="0" y="0" font-size="25.2" fill="#4d4d4d" stroke="#4d4d4d" stroke-width="0.45" text-anchor="middle">CHD</text>
<line x1="589.39" y1="1316.22" x2="589.39" y2="1324.12" stroke="#262626" stroke-width="2.7"/>
<text transform="translate(589.39 1348.87) rotate(0.1) scale(1 1.035)" x="0" y="0" font-size="25.2" fill="#4d4d4d" stroke="#4d4d4d" stroke-width="0.45" text-anchor="middle">PT</text>
<path d="M431.39 1222.62H489.19M431.39 1255.18H489.19M460.29 1222.62V1255.18" fill="none" stroke="#6b6b6b" stroke-width="2.95"/>
<circle cx="460.29" cy="1239.01" r="5.95" fill="#6b6b6b"/>
<path d="M495.94 1266.25H553.74M495.94 1299.92H553.74M524.84 1266.25V1299.92" fill="none" stroke="#2e96ff" stroke-width="2.95"/>
<rect x="518.94" y="1277.41" width="11.8" height="11.8" fill="#2e96ff"/>
<path d="M560.49 1270.9H618.29M560.49 1304.57H618.29M589.39 1270.9V1304.57" fill="none" stroke="#ff9000" stroke-width="2.95"/>
<path d="M589.39 1281.96L595.39 1287.96L589.39 1293.96L583.39 1287.96Z" fill="#ff9000"/>
<line x1="466.75" y1="1188.75" x2="582.94" y2="1188.75" stroke="#000" stroke-width="3.5"/>
<text transform="translate(524.49 1193.35) rotate(0.1) scale(1 1)" x="-17.4 0 17.4" y="0" font-size="35" font-weight="normal" fill="#000" stroke="#000" stroke-width="0.7" stroke-linejoin="round" text-anchor="middle">***</text>
<line x1="466.75" y1="1214.85" x2="518.38" y2="1214.85" stroke="#000" stroke-width="3.5"/>
<text transform="translate(492.22 1219.45) rotate(0.1) scale(1 1)" x="-17.4 0 17.4" y="0" font-size="35" font-weight="normal" fill="#000" stroke="#000" stroke-width="0.7" stroke-linejoin="round" text-anchor="middle">***</text>
</g>
<g>
<rect x="722.33" y="1161.2" width="204.8" height="154.52" fill="#ffffff" stroke="#414141" stroke-width="1.6"/>
<rect x="722.33" y="1112.65" width="204.8" height="47.5" fill="#d9d9d9" stroke="#414141" stroke-width="1.6"/>
<text transform="translate(824.73 1145.35) rotate(0.1) scale(1 1.035)" x="0" y="0" font-size="25.2" fill="#1a1a1a" stroke="#1a1a1a" stroke-width="0.45" text-anchor="middle">SLF III (R)</text>
<line x1="713.53" y1="1186.71" x2="721.83" y2="1186.71" stroke="#262626" stroke-width="2.7"/>
<text transform="translate(706.73 1196.03) rotate(0.1) scale(1 1.008)" x="0" y="0" font-size="25.2" fill="#4d4d4d" stroke="#4d4d4d" stroke-width="0.45" text-anchor="end">0.230</text>
<line x1="713.53" y1="1220.69" x2="721.83" y2="1220.69" stroke="#262626" stroke-width="2.7"/>
<text transform="translate(706.73 1230.01) rotate(0.1) scale(1 1.008)" x="0" y="0" font-size="25.2" fill="#4d4d4d" stroke="#4d4d4d" stroke-width="0.45" text-anchor="end">0.225</text>
<line x1="713.53" y1="1254.67" x2="721.83" y2="1254.67" stroke="#262626" stroke-width="2.7"/>
<text transform="translate(706.73 1263.99) rotate(0.1) scale(1 1.008)" x="0" y="0" font-size="25.2" fill="#4d4d4d" stroke="#4d4d4d" stroke-width="0.45" text-anchor="end">0.220</text>
<line x1="713.53" y1="1288.64" x2="721.83" y2="1288.64" stroke="#262626" stroke-width="2.7"/>
<text transform="translate(706.73 1297.96) rotate(0.1) scale(1 1.008)" x="0" y="0" font-size="25.2" fill="#4d4d4d" stroke="#4d4d4d" stroke-width="0.45" text-anchor="end">0.215</text>
<line x1="760.18" y1="1316.22" x2="760.18" y2="1324.12" stroke="#262626" stroke-width="2.7"/>
<text transform="translate(760.18 1348.87) rotate(0.1) scale(1 1.035)" x="0" y="0" font-size="25.2" fill="#4d4d4d" stroke="#4d4d4d" stroke-width="0.45" text-anchor="middle">CTL</text>
<line x1="824.73" y1="1316.22" x2="824.73" y2="1324.12" stroke="#262626" stroke-width="2.7"/>
<text transform="translate(824.73 1348.87) rotate(0.1) scale(1 1.035)" x="0" y="0" font-size="25.2" fill="#4d4d4d" stroke="#4d4d4d" stroke-width="0.45" text-anchor="middle">CHD</text>
<line x1="889.28" y1="1316.22" x2="889.28" y2="1324.12" stroke="#262626" stroke-width="2.7"/>
<text transform="translate(889.28 1348.87) rotate(0.1) scale(1 1.035)" x="0" y="0" font-size="25.2" fill="#4d4d4d" stroke="#4d4d4d" stroke-width="0.45" text-anchor="middle">PT</text>
<path d="M731.28 1222.62H789.08M731.28 1261.38H789.08M760.18 1222.62V1261.38" fill="none" stroke="#6b6b6b" stroke-width="2.95"/>
<circle cx="760.18" cy="1242.33" r="5.95" fill="#6b6b6b"/>
<path d="M795.83 1257.39H853.63M795.83 1297.7H853.63M824.73 1257.39V1297.7" fill="none" stroke="#2e96ff" stroke-width="2.95"/>
<rect x="818.83" y="1271.65" width="11.8" height="11.8" fill="#2e96ff"/>
<path d="M860.38 1264.48H918.18M860.38 1304.57H918.18M889.28 1264.48V1304.57" fill="none" stroke="#ff9000" stroke-width="2.95"/>
<path d="M889.28 1278.64L895.28 1284.64L889.28 1290.64L883.28 1284.64Z" fill="#ff9000"/>
<line x1="766.63" y1="1188.75" x2="882.82" y2="1188.75" stroke="#000" stroke-width="3.5"/>
<text transform="translate(824.38 1193.35) rotate(0.1) scale(1 1)" x="-8.7 8.7" y="0" font-size="35" font-weight="normal" fill="#000" stroke="#000" stroke-width="0.7" stroke-linejoin="round" text-anchor="middle">**</text>
<line x1="766.63" y1="1214.85" x2="818.27" y2="1214.85" stroke="#000" stroke-width="3.5"/>
<text transform="translate(792.1 1219.45) rotate(0.1) scale(1 1)" x="0" y="0" font-size="35" font-weight="normal" fill="#000" stroke="#000" stroke-width="0.7" stroke-linejoin="round" text-anchor="middle">*</text>
</g>
<g>
<rect x="1022.22" y="1161.2" width="204.8" height="154.52" fill="#ffffff" stroke="#414141" stroke-width="1.6"/>
<rect x="1022.22" y="1112.65" width="204.8" height="47.5" fill="#d9d9d9" stroke="#414141" stroke-width="1.6"/>
<text transform="translate(1124.62 1145.35) rotate(0.1) scale(1 1.035)" x="0" y="0" font-size="25.2" fill="#1a1a1a" stroke="#1a1a1a" stroke-width="0.45" text-anchor="middle">UF (L)</text>
<line x1="1013.42" y1="1171.69" x2="1021.72" y2="1171.69" stroke="#262626" stroke-width="2.7"/>
<text transform="translate(1006.62 1181.01) rotate(0.1) scale(1 1.008)" x="0" y="0" font-size="25.2" fill="#4d4d4d" stroke="#4d4d4d" stroke-width="0.45" text-anchor="end">0.20</text>
<line x1="1013.42" y1="1200.58" x2="1021.72" y2="1200.58" stroke="#262626" stroke-width="2.7"/>
<text transform="translate(1006.62 1209.9) rotate(0.1) scale(1 1.008)" x="0" y="0" font-size="25.2" fill="#4d4d4d" stroke="#4d4d4d" stroke-width="0.45" text-anchor="end">0.19</text>
<line x1="1013.42" y1="1229.47" x2="1021.72" y2="1229.47" stroke="#262626" stroke-width="2.7"/>
<text transform="translate(1006.62 1238.79) rotate(0.1) scale(1 1.008)" x="0" y="0" font-size="25.2" fill="#4d4d4d" stroke="#4d4d4d" stroke-width="0.45" text-anchor="end">0.18</text>
<line x1="1013.42" y1="1258.36" x2="1021.72" y2="1258.36" stroke="#262626" stroke-width="2.7"/>
<text transform="translate(1006.62 1267.68) rotate(0.1) scale(1 1.008)" x="0" y="0" font-size="25.2" fill="#4d4d4d" stroke="#4d4d4d" stroke-width="0.45" text-anchor="end">0.17</text>
<line x1="1013.42" y1="1287.25" x2="1021.72" y2="1287.25" stroke="#262626" stroke-width="2.7"/>
<text transform="translate(1006.62 1296.57) rotate(0.1) scale(1 1.008)" x="0" y="0" font-size="25.2" fill="#4d4d4d" stroke="#4d4d4d" stroke-width="0.45" text-anchor="end">0.16</text>
<line x1="1013.42" y1="1316.14" x2="1021.72" y2="1316.14" stroke="#262626" stroke-width="2.7"/>
<text transform="translate(1006.62 1325.46) rotate(0.1) scale(1 1.008)" x="0" y="0" font-size="25.2" fill="#4d4d4d" stroke="#4d4d4d" stroke-width="0.45" text-anchor="end">0.15</text>
<line x1="1060.07" y1="1316.22" x2="1060.07" y2="1324.12" stroke="#262626" stroke-width="2.7"/>
<text transform="translate(1060.07 1348.87) rotate(0.1) scale(1 1.035)" x="0" y="0" font-size="25.2" fill="#4d4d4d" stroke="#4d4d4d" stroke-width="0.45" text-anchor="middle">CTL</text>
<line x1="1124.62" y1="1316.22" x2="1124.62" y2="1324.12" stroke="#262626" stroke-width="2.7"/>
<text transform="translate(1124.62 1348.87) rotate(0.1) scale(1 1.035)" x="0" y="0" font-size="25.2" fill="#4d4d4d" stroke="#4d4d4d" stroke-width="0.45" text-anchor="middle">CHD</text>
<line x1="1189.17" y1="1316.22" x2="1189.17" y2="1324.12" stroke="#262626" stroke-width="2.7"/>
<text transform="translate(1189.17 1348.87) rotate(0.1) scale(1 1.035)" x="0" y="0" font-size="25.2" fill="#4d4d4d" stroke="#4d4d4d" stroke-width="0.45" text-anchor="middle">PT</text>
<path d="M1031.17 1222.62H1088.97M1031.17 1248.53H1088.97M1060.07 1222.62V1248.53" fill="none" stroke="#6b6b6b" stroke-width="2.95"/>
<circle cx="1060.07" cy="1235.91" r="5.95" fill="#6b6b6b"/>
<path d="M1095.72 1241.89H1153.52M1095.72 1268.47H1153.52M1124.62 1241.89V1268.47" fill="none" stroke="#2e96ff" stroke-width="2.95"/>
<rect x="1118.72" y="1249.28" width="11.8" height="11.8" fill="#2e96ff"/>
<path d="M1160.27 1275.78H1218.07M1160.27 1304.57H1218.07M1189.17 1275.78V1304.57" fill="none" stroke="#ff9000" stroke-width="2.95"/>
<path d="M1189.17 1283.95L1195.17 1289.95L1189.17 1295.95L1183.17 1289.95Z" fill="#ff9000"/>
<line x1="1066.52" y1="1188.75" x2="1182.71" y2="1188.75" stroke="#000" stroke-width="3.5"/>
<text transform="translate(1124.27 1193.35) rotate(0.1) scale(1 1)" x="-17.4 0 17.4" y="0" font-size="35" font-weight="normal" fill="#000" stroke="#000" stroke-width="0.7" stroke-linejoin="round" text-anchor="middle">***</text>
<line x1="1066.52" y1="1214.85" x2="1118.16" y2="1214.85" stroke="#000" stroke-width="3.5"/>
<text transform="translate(1091.99 1219.45) rotate(0.1) scale(1 1)" x="0" y="0" font-size="35" font-weight="normal" fill="#000" stroke="#000" stroke-width="0.7" stroke-linejoin="round" text-anchor="middle">*</text>
<line x1="1131.07" y1="1214.85" x2="1182.71" y2="1214.85" stroke="#000" stroke-width="3.5"/>
<text transform="translate(1156.55 1219.45) rotate(0.1) scale(1 1)" x="0" y="0" font-size="35" font-weight="normal" fill="#000" stroke="#000" stroke-width="0.7" stroke-linejoin="round" text-anchor="middle">*</text>
</g>
<g>
<rect x="1322.11" y="1161.2" width="204.8" height="154.52" fill="#ffffff" stroke="#414141" stroke-width="1.6"/>
<rect x="1322.11" y="1112.65" width="204.8" height="47.5" fill="#d9d9d9" stroke="#414141" stroke-width="1.6"/>
<text transform="translate(1424.51 1145.35) rotate(0.1) scale(1 1.035)" x="0" y="0" font-size="25.2" fill="#1a1a1a" stroke="#1a1a1a" stroke-width="0.45" text-anchor="middle">UF (R)</text>
<line x1="1313.31" y1="1169.03" x2="1321.61" y2="1169.03" stroke="#262626" stroke-width="2.7"/>
<text transform="translate(1306.51 1178.35) rotate(0.1) scale(1 1.008)" x="0" y="0" font-size="25.2" fill="#4d4d4d" stroke="#4d4d4d" stroke-width="0.45" text-anchor="end">0.20</text>
<line x1="1313.31" y1="1205.61" x2="1321.61" y2="1205.61" stroke="#262626" stroke-width="2.7"/>
<text transform="translate(1306.51 1214.93) rotate(0.1) scale(1 1.008)" x="0" y="0" font-size="25.2" fill="#4d4d4d" stroke="#4d4d4d" stroke-width="0.45" text-anchor="end">0.19</text>
<line x1="1313.31" y1="1242.2" x2="1321.61" y2="1242.2" stroke="#262626" stroke-width="2.7"/>
<text transform="translate(1306.51 1251.52) rotate(0.1) scale(1 1.008)" x="0" y="0" font-size="25.2" fill="#4d4d4d" stroke="#4d4d4d" stroke-width="0.45" text-anchor="end">0.18</text>
<line x1="1313.31" y1="1278.78" x2="1321.61" y2="1278.78" stroke="#262626" stroke-width="2.7"/>
<text transform="translate(1306.51 1288.1) rotate(0.1) scale(1 1.008)" x="0" y="0" font-size="25.2" fill="#4d4d4d" stroke="#4d4d4d" stroke-width="0.45" text-anchor="end">0.17</text>
<line x1="1313.31" y1="1315.37" x2="1321.61" y2="1315.37" stroke="#262626" stroke-width="2.7"/>
<text transform="translate(1306.51 1324.69) rotate(0.1) scale(1 1.008)" x="0" y="0" font-size="25.2" fill="#4d4d4d" stroke="#4d4d4d" stroke-width="0.45" text-anchor="end">0.16</text>
<line x1="1359.96" y1="1316.22" x2="1359.96" y2="1324.12" stroke="#262626" stroke-width="2.7"/>
<text transform="translate(1359.96 1348.87) rotate(0.1) scale(1 1.035)" x="0" y="0" font-size="25.2" fill="#4d4d4d" stroke="#4d4d4d" stroke-width="0.45" text-anchor="middle">CTL</text>
<line x1="1424.51" y1="1316.22" x2="1424.51" y2="1324.12" stroke="#262626" stroke-width="2.7"/>
<text transform="translate(1424.51 1348.87) rotate(0.1) scale(1 1.035)" x="0" y="0" font-size="25.2" fill="#4d4d4d" stroke="#4d4d4d" stroke-width="0.45" text-anchor="middle">CHD</text>
<line x1="1489.06" y1="1316.22" x2="1489.06" y2="1324.12" stroke="#262626" stroke-width="2.7"/>
<text transform="translate(1489.06 1348.87) rotate(0.1) scale(1 1.035)" x="0" y="0" font-size="25.2" fill="#4d4d4d" stroke="#4d4d4d" stroke-width="0.45" text-anchor="middle">PT</text>
<path d="M1331.06 1222.62H1388.86M1331.06 1253.63H1388.86M1359.96 1222.62V1253.63" fill="none" stroke="#6b6b6b" stroke-width="2.95"/>
<circle cx="1359.96" cy="1238.56" r="5.95" fill="#6b6b6b"/>
<path d="M1395.61 1251.41H1453.41M1395.61 1282.86H1453.41M1424.51 1251.41V1282.86" fill="none" stroke="#2e96ff" stroke-width="2.95"/>
<rect x="1418.61" y="1261.24" width="11.8" height="11.8" fill="#2e96ff"/>
<path d="M1460.16 1270.24H1517.96M1460.16 1304.57H1517.96M1489.06 1270.24V1304.57" fill="none" stroke="#ff9000" stroke-width="2.95"/>
<path d="M1489.06 1281.51L1495.06 1287.51L1489.06 1293.51L1483.06 1287.51Z" fill="#ff9000"/>
<line x1="1366.41" y1="1188.75" x2="1482.61" y2="1188.75" stroke="#000" stroke-width="3.5"/>
<text transform="translate(1424.16 1193.35) rotate(0.1) scale(1 1)" x="-17.4 0 17.4" y="0" font-size="35" font-weight="normal" fill="#000" stroke="#000" stroke-width="0.7" stroke-linejoin="round" text-anchor="middle">***</text>
<line x1="1366.41" y1="1214.85" x2="1418.06" y2="1214.85" stroke="#000" stroke-width="3.5"/>
<text transform="translate(1391.89 1219.45) rotate(0.1) scale(1 1)" x="0" y="0" font-size="35" font-weight="normal" fill="#000" stroke="#000" stroke-width="0.7" stroke-linejoin="round" text-anchor="middle">*</text>
</g>
<text transform="translate(825 1386.18) rotate(0.1) scale(1 1.035)" x="0" y="0" font-size="31.3" font-weight="bold" fill="#000" text-anchor="middle">Group</text>
<text transform="translate(29.1 685.9) rotate(-89.9) scale(1 1.045)" font-size="31.8" font-weight="bold" fill="#000" text-anchor="middle">MWF</text>
<text transform="translate(579.5 1436.58) rotate(0.1) scale(1 1.035)" x="0" y="0" font-size="31.3" font-weight="bold" fill="#000">Group</text>
<line x1="696.1" y1="1425.8" x2="739.7" y2="1425.8" stroke="#6b6b6b" stroke-width="2.95"/>
<circle cx="717.9" cy="1425.8" r="5.95" fill="#6b6b6b"/>
<text transform="translate(760.2 1435.5) rotate(0.1) scale(1 1.035)" x="0" y="0" font-size="25.3" fill="#000" stroke="#000" stroke-width="0.35">CTL</text>
<line x1="830.6" y1="1425.8" x2="874.2" y2="1425.8" stroke="#2e96ff" stroke-width="2.95"/>
<rect x="846.5" y="1419.9" width="11.8" height="11.8" fill="#2e96ff"/>
<text transform="translate(894.6 1435.5) rotate(0.1) scale(1 1.035)" x="0" y="0" font-size="25.3" fill="#000" stroke="#000" stroke-width="0.35">CHD</text>
<line x1="971.8" y1="1425.8" x2="1015.4" y2="1425.8" stroke="#ff9000" stroke-width="2.95"/>
<path d="M993.6 1419.8L999.6 1425.8L993.6 1431.8L987.6 1425.8Z" fill="#ff9000"/>
<text transform="translate(1036.2 1435.5) rotate(0.1) scale(1 1.035)" x="0" y="0" font-size="25.3" fill="#000" stroke="#000" stroke-width="0.35">PT</text>
</svg>
</body>
</html>
